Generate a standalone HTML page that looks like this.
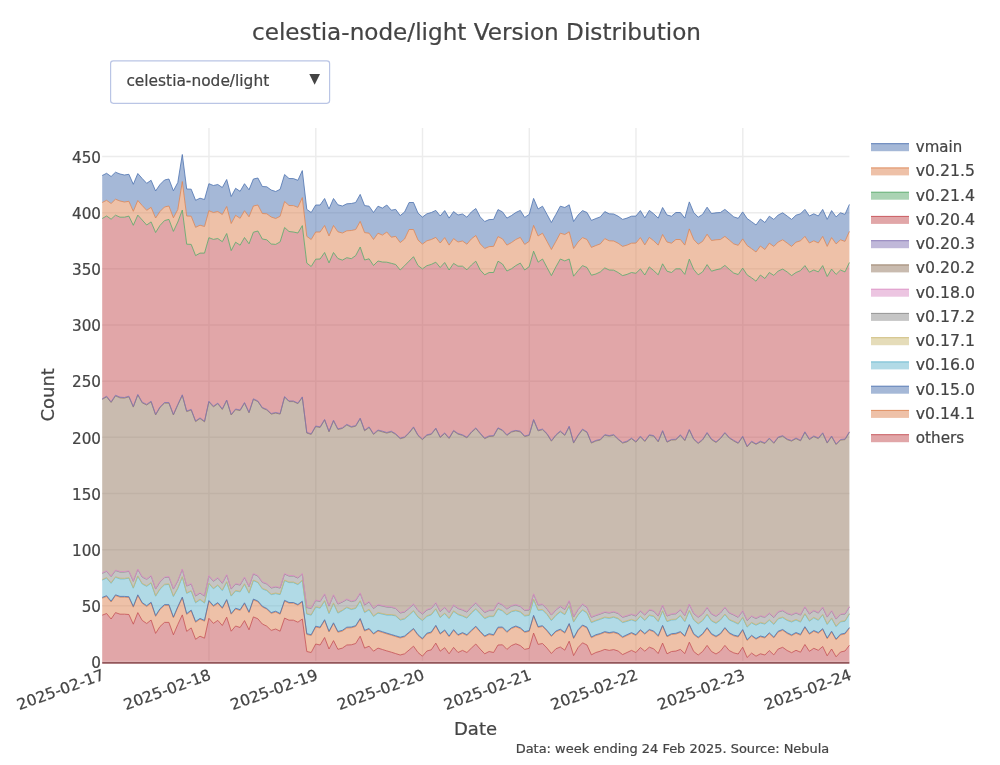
<!DOCTYPE html>
<html lang="en"><head><meta charset="utf-8"><title>celestia-node/light Version Distribution</title>
<style>html,body{margin:0;padding:0;background:#fff;width:1000px;height:765px;overflow:hidden}</style></head>
<body>
<svg width="1000" height="765" viewBox="0 0 1000 765" style="position:absolute;left:0;top:0">
<rect width="1000" height="765" fill="#fff"/>
<line x1="209.0" x2="209.0" y1="128.0" y2="662.0" stroke="#ECECEC" stroke-width="1.4"/>
<line x1="315.8" x2="315.8" y1="128.0" y2="662.0" stroke="#ECECEC" stroke-width="1.4"/>
<line x1="422.5" x2="422.5" y1="128.0" y2="662.0" stroke="#ECECEC" stroke-width="1.4"/>
<line x1="529.3" x2="529.3" y1="128.0" y2="662.0" stroke="#ECECEC" stroke-width="1.4"/>
<line x1="636.0" x2="636.0" y1="128.0" y2="662.0" stroke="#ECECEC" stroke-width="1.4"/>
<line x1="742.8" x2="742.8" y1="128.0" y2="662.0" stroke="#ECECEC" stroke-width="1.4"/>
<line x1="102.2" x2="849.4" y1="605.8" y2="605.8" stroke="#ECECEC" stroke-width="1.4"/>
<line x1="102.2" x2="849.4" y1="549.7" y2="549.7" stroke="#ECECEC" stroke-width="1.4"/>
<line x1="102.2" x2="849.4" y1="493.5" y2="493.5" stroke="#ECECEC" stroke-width="1.4"/>
<line x1="102.2" x2="849.4" y1="437.3" y2="437.3" stroke="#ECECEC" stroke-width="1.4"/>
<line x1="102.2" x2="849.4" y1="381.2" y2="381.2" stroke="#ECECEC" stroke-width="1.4"/>
<line x1="102.2" x2="849.4" y1="325.0" y2="325.0" stroke="#ECECEC" stroke-width="1.4"/>
<line x1="102.2" x2="849.4" y1="268.8" y2="268.8" stroke="#ECECEC" stroke-width="1.4"/>
<line x1="102.2" x2="849.4" y1="212.7" y2="212.7" stroke="#ECECEC" stroke-width="1.4"/>
<line x1="102.2" x2="849.4" y1="156.5" y2="156.5" stroke="#ECECEC" stroke-width="1.4"/>
<line x1="102.2" x2="849.4" y1="662.0" y2="662.0" stroke="#EBEBEB" stroke-width="2"/>
<polygon points="102.2,615.2 106.6,613.5 111.1,619.0 115.5,612.6 120.0,614.2 124.4,614.2 128.9,614.5 133.3,624.2 137.8,612.6 142.2,620.4 146.7,623.5 151.1,620.0 155.6,633.4 160.0,626.5 164.5,622.4 168.9,622.4 173.4,634.8 177.8,624.5 182.3,614.9 186.7,631.4 191.2,627.9 195.6,639.3 200.0,636.2 204.5,638.2 208.9,618.3 213.4,623.4 217.8,620.4 222.3,625.5 226.7,617.2 231.2,631.2 235.6,626.0 240.1,627.5 244.5,620.6 249.0,629.8 253.4,616.9 257.9,618.8 262.3,624.0 266.8,626.2 271.2,630.4 275.7,629.0 280.1,631.2 284.6,618.1 289.0,620.2 293.4,620.2 297.9,622.2 302.3,619.0 306.8,651.5 311.2,652.5 315.7,644.0 320.1,645.0 324.6,637.5 329.0,649.0 333.5,640.6 337.9,649.3 342.4,648.1 346.8,645.0 351.3,644.8 355.7,643.5 360.2,636.2 364.6,648.1 369.1,646.2 373.5,651.2 378.0,648.1 382.4,649.5 386.8,650.9 391.3,652.2 395.7,653.6 400.2,655.0 404.6,653.8 409.1,650.0 413.5,646.2 418.0,652.5 422.4,656.2 426.9,651.0 431.3,649.8 435.8,643.1 440.2,651.2 444.7,647.7 449.1,653.8 453.6,647.4 458.0,652.5 462.5,650.4 466.9,652.5 471.4,648.1 475.8,644.0 480.2,649.1 484.7,653.8 489.1,651.5 493.6,652.5 498.0,645.0 502.5,644.8 506.9,649.4 511.4,645.6 515.8,643.8 520.3,645.6 524.7,649.4 529.2,648.4 533.6,633.1 538.1,644.4 542.5,643.5 547.0,648.1 551.4,653.5 555.9,648.8 560.3,647.0 564.8,650.2 569.2,641.2 573.6,655.6 578.1,647.5 582.5,642.8 587.0,645.0 591.4,654.8 595.9,652.5 600.3,651.2 604.8,649.4 609.2,650.4 613.7,649.6 618.1,651.0 622.6,654.6 627.0,652.5 631.5,650.4 635.9,652.5 640.4,647.5 644.8,651.2 649.3,647.2 653.7,648.8 658.2,653.5 662.6,643.1 667.0,653.8 671.5,651.5 675.9,651.1 680.4,649.4 684.8,653.6 689.3,642.2 693.7,651.5 698.2,655.0 702.6,651.5 707.1,645.4 711.5,651.5 716.0,654.0 720.4,651.2 724.9,645.4 729.3,650.6 733.8,652.9 738.2,654.0 742.7,647.2 747.1,657.5 751.6,653.1 756.0,656.2 760.4,653.8 764.9,655.0 769.3,650.6 773.8,654.9 778.2,649.0 782.7,647.3 787.1,650.5 791.6,652.7 796.0,650.3 800.5,652.2 804.9,644.5 809.4,651.3 813.8,648.3 818.3,650.3 822.7,646.5 827.2,655.8 831.6,649.0 836.1,656.8 840.5,652.0 845.0,651.0 849.4,645.3 849.4,662.0 845.0,662.0 840.5,662.0 836.1,662.0 831.6,662.0 827.2,662.0 822.7,662.0 818.3,662.0 813.8,662.0 809.4,662.0 804.9,662.0 800.5,662.0 796.0,662.0 791.6,662.0 787.1,662.0 782.7,662.0 778.2,662.0 773.8,662.0 769.3,662.0 764.9,662.0 760.4,662.0 756.0,662.0 751.6,662.0 747.1,662.0 742.7,662.0 738.2,662.0 733.8,662.0 729.3,662.0 724.9,662.0 720.4,662.0 716.0,662.0 711.5,662.0 707.1,662.0 702.6,662.0 698.2,662.0 693.7,662.0 689.3,662.0 684.8,662.0 680.4,662.0 675.9,662.0 671.5,662.0 667.0,662.0 662.6,662.0 658.2,662.0 653.7,662.0 649.3,662.0 644.8,662.0 640.4,662.0 635.9,662.0 631.5,662.0 627.0,662.0 622.6,662.0 618.1,662.0 613.7,662.0 609.2,662.0 604.8,662.0 600.3,662.0 595.9,662.0 591.4,662.0 587.0,662.0 582.5,662.0 578.1,662.0 573.6,662.0 569.2,662.0 564.8,662.0 560.3,662.0 555.9,662.0 551.4,662.0 547.0,662.0 542.5,662.0 538.1,662.0 533.6,662.0 529.2,662.0 524.7,662.0 520.3,662.0 515.8,662.0 511.4,662.0 506.9,662.0 502.5,662.0 498.0,662.0 493.6,662.0 489.1,662.0 484.7,662.0 480.2,662.0 475.8,662.0 471.4,662.0 466.9,662.0 462.5,662.0 458.0,662.0 453.6,662.0 449.1,662.0 444.7,662.0 440.2,662.0 435.8,662.0 431.3,662.0 426.9,662.0 422.4,662.0 418.0,662.0 413.5,662.0 409.1,662.0 404.6,662.0 400.2,662.0 395.7,662.0 391.3,662.0 386.8,662.0 382.4,662.0 378.0,662.0 373.5,662.0 369.1,662.0 364.6,662.0 360.2,662.0 355.7,662.0 351.3,662.0 346.8,662.0 342.4,662.0 337.9,662.0 333.5,662.0 329.0,662.0 324.6,662.0 320.1,662.0 315.7,662.0 311.2,662.0 306.8,662.0 302.3,662.0 297.9,662.0 293.4,662.0 289.0,662.0 284.6,662.0 280.1,662.0 275.7,662.0 271.2,662.0 266.8,662.0 262.3,662.0 257.9,662.0 253.4,662.0 249.0,662.0 244.5,662.0 240.1,662.0 235.6,662.0 231.2,662.0 226.7,662.0 222.3,662.0 217.8,662.0 213.4,662.0 208.9,662.0 204.5,662.0 200.0,662.0 195.6,662.0 191.2,662.0 186.7,662.0 182.3,662.0 177.8,662.0 173.4,662.0 168.9,662.0 164.5,662.0 160.0,662.0 155.6,662.0 151.1,662.0 146.7,662.0 142.2,662.0 137.8,662.0 133.3,662.0 128.9,662.0 124.4,662.0 120.0,662.0 115.5,662.0 111.1,662.0 106.6,662.0 102.2,662.0" fill="rgba(196,78,82,0.5)" stroke="none"/>
<polygon points="102.2,598.2 106.6,596.5 111.1,602.0 115.5,595.6 120.0,597.2 124.4,597.2 128.9,597.5 133.3,607.2 137.8,595.6 142.2,603.4 146.7,606.5 151.1,603.0 155.6,616.4 160.0,609.5 164.5,605.4 168.9,605.4 173.4,617.8 177.8,607.5 182.3,597.9 186.7,614.4 191.2,610.9 195.6,622.3 200.0,619.2 204.5,621.2 208.9,601.3 213.4,606.4 217.8,603.4 222.3,608.5 226.7,600.2 231.2,614.2 235.6,609.0 240.1,610.5 244.5,603.6 249.0,612.8 253.4,599.9 257.9,601.8 262.3,607.0 266.8,609.2 271.2,613.4 275.7,612.0 280.1,614.2 284.6,601.1 289.0,603.2 293.4,603.2 297.9,605.2 302.3,602.0 306.8,634.5 311.2,635.5 315.7,627.0 320.1,628.0 324.6,620.5 329.0,632.0 333.5,623.6 337.9,632.3 342.4,631.1 346.8,628.0 351.3,627.8 355.7,626.5 360.2,619.2 364.6,631.1 369.1,629.2 373.5,634.2 378.0,631.1 382.4,632.5 386.8,633.9 391.3,635.2 395.7,636.6 400.2,638.0 404.6,636.8 409.1,633.0 413.5,629.2 418.0,635.5 422.4,639.2 426.9,634.0 431.3,632.8 435.8,626.1 440.2,634.2 444.7,630.7 449.1,636.8 453.6,630.4 458.0,635.5 462.5,633.4 466.9,635.5 471.4,631.1 475.8,627.0 480.2,632.1 484.7,636.8 489.1,634.5 493.6,635.5 498.0,628.0 502.5,627.8 506.9,632.4 511.4,628.6 515.8,626.8 520.3,628.6 524.7,632.4 529.2,631.4 533.6,616.1 538.1,627.4 542.5,626.5 547.0,631.1 551.4,636.5 555.9,631.8 560.3,630.0 564.8,633.2 569.2,624.2 573.6,638.6 578.1,630.5 582.5,625.8 587.0,628.0 591.4,637.8 595.9,635.5 600.3,634.2 604.8,632.4 609.2,633.4 613.7,632.6 618.1,634.0 622.6,637.6 627.0,635.5 631.5,633.4 635.9,635.5 640.4,630.5 644.8,634.2 649.3,630.2 653.7,631.8 658.2,636.5 662.6,626.1 667.0,636.8 671.5,634.5 675.9,634.1 680.4,632.4 684.8,636.6 689.3,625.2 693.7,634.5 698.2,638.0 702.6,634.5 707.1,628.4 711.5,634.5 716.0,637.0 720.4,634.2 724.9,628.4 729.3,633.6 733.8,635.9 738.2,637.0 742.7,630.2 747.1,640.5 751.6,636.1 756.0,639.2 760.4,636.8 764.9,638.0 769.3,633.6 773.8,637.9 778.2,632.0 782.7,630.3 787.1,633.5 791.6,635.7 796.0,633.3 800.5,635.2 804.9,627.5 809.4,634.3 813.8,631.3 818.3,633.3 822.7,629.5 827.2,638.8 831.6,632.0 836.1,639.8 840.5,635.0 845.0,634.0 849.4,628.3 849.4,645.3 845.0,651.0 840.5,652.0 836.1,656.8 831.6,649.0 827.2,655.8 822.7,646.5 818.3,650.3 813.8,648.3 809.4,651.3 804.9,644.5 800.5,652.2 796.0,650.3 791.6,652.7 787.1,650.5 782.7,647.3 778.2,649.0 773.8,654.9 769.3,650.6 764.9,655.0 760.4,653.8 756.0,656.2 751.6,653.1 747.1,657.5 742.7,647.2 738.2,654.0 733.8,652.9 729.3,650.6 724.9,645.4 720.4,651.2 716.0,654.0 711.5,651.5 707.1,645.4 702.6,651.5 698.2,655.0 693.7,651.5 689.3,642.2 684.8,653.6 680.4,649.4 675.9,651.1 671.5,651.5 667.0,653.8 662.6,643.1 658.2,653.5 653.7,648.8 649.3,647.2 644.8,651.2 640.4,647.5 635.9,652.5 631.5,650.4 627.0,652.5 622.6,654.6 618.1,651.0 613.7,649.6 609.2,650.4 604.8,649.4 600.3,651.2 595.9,652.5 591.4,654.8 587.0,645.0 582.5,642.8 578.1,647.5 573.6,655.6 569.2,641.2 564.8,650.2 560.3,647.0 555.9,648.8 551.4,653.5 547.0,648.1 542.5,643.5 538.1,644.4 533.6,633.1 529.2,648.4 524.7,649.4 520.3,645.6 515.8,643.8 511.4,645.6 506.9,649.4 502.5,644.8 498.0,645.0 493.6,652.5 489.1,651.5 484.7,653.8 480.2,649.1 475.8,644.0 471.4,648.1 466.9,652.5 462.5,650.4 458.0,652.5 453.6,647.4 449.1,653.8 444.7,647.7 440.2,651.2 435.8,643.1 431.3,649.8 426.9,651.0 422.4,656.2 418.0,652.5 413.5,646.2 409.1,650.0 404.6,653.8 400.2,655.0 395.7,653.6 391.3,652.2 386.8,650.9 382.4,649.5 378.0,648.1 373.5,651.2 369.1,646.2 364.6,648.1 360.2,636.2 355.7,643.5 351.3,644.8 346.8,645.0 342.4,648.1 337.9,649.3 333.5,640.6 329.0,649.0 324.6,637.5 320.1,645.0 315.7,644.0 311.2,652.5 306.8,651.5 302.3,619.0 297.9,622.2 293.4,620.2 289.0,620.2 284.6,618.1 280.1,631.2 275.7,629.0 271.2,630.4 266.8,626.2 262.3,624.0 257.9,618.8 253.4,616.9 249.0,629.8 244.5,620.6 240.1,627.5 235.6,626.0 231.2,631.2 226.7,617.2 222.3,625.5 217.8,620.4 213.4,623.4 208.9,618.3 204.5,638.2 200.0,636.2 195.6,639.3 191.2,627.9 186.7,631.4 182.3,614.9 177.8,624.5 173.4,634.8 168.9,622.4 164.5,622.4 160.0,626.5 155.6,633.4 151.1,620.0 146.7,623.5 142.2,620.4 137.8,612.6 133.3,624.2 128.9,614.5 124.4,614.2 120.0,614.2 115.5,612.6 111.1,619.0 106.6,613.5 102.2,615.2" fill="rgba(221,132,82,0.5)" stroke="none"/>
<polygon points="102.2,597.4 106.6,595.7 111.1,601.2 115.5,594.8 120.0,596.4 124.4,596.4 128.9,596.7 133.3,606.4 137.8,594.8 142.2,602.6 146.7,605.7 151.1,602.2 155.6,615.6 160.0,608.7 164.5,604.6 168.9,604.6 173.4,617.0 177.8,606.7 182.3,597.1 186.7,613.6 191.2,610.1 195.6,621.5 200.0,618.4 204.5,620.4 208.9,600.5 213.4,605.6 217.8,602.6 222.3,607.7 226.7,599.5 231.2,613.5 235.6,608.2 240.1,609.7 244.5,602.8 249.0,612.0 253.4,599.1 257.9,601.0 262.3,606.2 266.8,608.5 271.2,612.6 275.7,611.2 280.1,613.5 284.6,600.3 289.0,602.5 293.4,602.5 297.9,604.5 302.3,601.2 306.8,633.7 311.2,634.7 315.7,626.2 320.1,627.2 324.6,619.7 329.0,631.2 333.5,622.8 337.9,631.5 342.4,630.3 346.8,627.2 351.3,627.0 355.7,625.7 360.2,618.5 364.6,630.3 369.1,628.5 373.5,633.5 378.0,630.3 382.4,631.7 386.8,633.1 391.3,634.5 395.7,635.8 400.2,637.2 404.6,636.0 409.1,632.2 413.5,628.5 418.0,634.7 422.4,638.5 426.9,633.2 431.3,632.0 435.8,625.3 440.2,633.5 444.7,629.9 449.1,636.0 453.6,629.6 458.0,634.7 462.5,632.6 466.9,634.7 471.4,630.3 475.8,626.2 480.2,631.3 484.7,636.0 489.1,633.7 493.6,634.7 498.0,627.2 502.5,627.0 506.9,631.6 511.4,627.8 515.8,626.0 520.3,627.8 524.7,631.6 529.2,630.6 533.6,615.3 538.1,626.6 542.5,625.7 547.0,630.3 551.4,635.7 555.9,631.0 560.3,629.2 564.8,632.4 569.2,623.5 573.6,637.8 578.1,629.7 582.5,625.0 587.0,627.2 591.4,637.0 595.9,634.7 600.3,633.5 604.8,631.6 609.2,632.6 613.7,631.8 618.1,633.2 622.6,636.8 627.0,634.7 631.5,632.6 635.9,634.7 640.4,629.7 644.8,633.5 649.3,629.5 653.7,631.0 658.2,635.7 662.6,625.3 667.0,636.0 671.5,633.7 675.9,633.3 680.4,631.6 684.8,635.8 689.3,624.5 693.7,633.7 698.2,637.2 702.6,633.7 707.1,627.6 711.5,633.7 716.0,636.2 720.4,633.5 724.9,627.6 729.3,632.8 733.8,635.1 738.2,636.2 742.7,629.5 747.1,639.7 751.6,635.3 756.0,638.5 760.4,636.0 764.9,637.2 769.3,632.8 773.8,637.1 778.2,631.2 782.7,629.5 787.1,632.7 791.6,634.9 796.0,632.5 800.5,634.4 804.9,626.7 809.4,633.5 813.8,630.5 818.3,632.5 822.7,628.7 827.2,638.0 831.6,631.2 836.1,639.0 840.5,634.2 845.0,633.2 849.4,627.5 849.4,628.3 845.0,634.0 840.5,635.0 836.1,639.8 831.6,632.0 827.2,638.8 822.7,629.5 818.3,633.3 813.8,631.3 809.4,634.3 804.9,627.5 800.5,635.2 796.0,633.3 791.6,635.7 787.1,633.5 782.7,630.3 778.2,632.0 773.8,637.9 769.3,633.6 764.9,638.0 760.4,636.8 756.0,639.2 751.6,636.1 747.1,640.5 742.7,630.2 738.2,637.0 733.8,635.9 729.3,633.6 724.9,628.4 720.4,634.2 716.0,637.0 711.5,634.5 707.1,628.4 702.6,634.5 698.2,638.0 693.7,634.5 689.3,625.2 684.8,636.6 680.4,632.4 675.9,634.1 671.5,634.5 667.0,636.8 662.6,626.1 658.2,636.5 653.7,631.8 649.3,630.2 644.8,634.2 640.4,630.5 635.9,635.5 631.5,633.4 627.0,635.5 622.6,637.6 618.1,634.0 613.7,632.6 609.2,633.4 604.8,632.4 600.3,634.2 595.9,635.5 591.4,637.8 587.0,628.0 582.5,625.8 578.1,630.5 573.6,638.6 569.2,624.2 564.8,633.2 560.3,630.0 555.9,631.8 551.4,636.5 547.0,631.1 542.5,626.5 538.1,627.4 533.6,616.1 529.2,631.4 524.7,632.4 520.3,628.6 515.8,626.8 511.4,628.6 506.9,632.4 502.5,627.8 498.0,628.0 493.6,635.5 489.1,634.5 484.7,636.8 480.2,632.1 475.8,627.0 471.4,631.1 466.9,635.5 462.5,633.4 458.0,635.5 453.6,630.4 449.1,636.8 444.7,630.7 440.2,634.2 435.8,626.1 431.3,632.8 426.9,634.0 422.4,639.2 418.0,635.5 413.5,629.2 409.1,633.0 404.6,636.8 400.2,638.0 395.7,636.6 391.3,635.2 386.8,633.9 382.4,632.5 378.0,631.1 373.5,634.2 369.1,629.2 364.6,631.1 360.2,619.2 355.7,626.5 351.3,627.8 346.8,628.0 342.4,631.1 337.9,632.3 333.5,623.6 329.0,632.0 324.6,620.5 320.1,628.0 315.7,627.0 311.2,635.5 306.8,634.5 302.3,602.0 297.9,605.2 293.4,603.2 289.0,603.2 284.6,601.1 280.1,614.2 275.7,612.0 271.2,613.4 266.8,609.2 262.3,607.0 257.9,601.8 253.4,599.9 249.0,612.8 244.5,603.6 240.1,610.5 235.6,609.0 231.2,614.2 226.7,600.2 222.3,608.5 217.8,603.4 213.4,606.4 208.9,601.3 204.5,621.2 200.0,619.2 195.6,622.3 191.2,610.9 186.7,614.4 182.3,597.9 177.8,607.5 173.4,617.8 168.9,605.4 164.5,605.4 160.0,609.5 155.6,616.4 151.1,603.0 146.7,606.5 142.2,603.4 137.8,595.6 133.3,607.2 128.9,597.5 124.4,597.2 120.0,597.2 115.5,595.6 111.1,602.0 106.6,596.5 102.2,598.2" fill="rgba(76,114,176,0.5)" stroke="none"/>
<polygon points="102.2,580.1 106.6,578.1 111.1,583.3 115.5,577.3 120.0,578.9 124.4,578.9 128.9,578.2 133.3,588.2 137.8,576.4 142.2,584.0 146.7,586.3 151.1,583.1 155.6,596.2 160.0,589.2 164.5,584.8 168.9,584.4 173.4,596.5 177.8,588.5 182.3,577.1 186.7,593.4 191.2,591.1 195.6,602.9 200.0,599.7 204.5,603.1 208.9,583.6 213.4,588.8 217.8,585.4 222.3,590.6 226.7,582.2 231.2,596.1 235.6,591.0 240.1,591.9 244.5,584.3 249.0,593.2 253.4,580.6 257.9,582.6 262.3,588.9 266.8,590.6 271.2,594.6 275.7,593.6 280.1,594.6 284.6,580.6 289.0,582.6 293.4,582.6 297.9,584.6 302.3,580.6 306.8,614.1 311.2,615.1 315.7,607.2 320.1,608.2 324.6,601.1 329.0,613.6 333.5,603.5 337.9,613.1 342.4,610.6 346.8,607.6 351.3,609.5 355.7,608.4 360.2,601.1 364.6,612.6 369.1,609.8 373.5,616.4 378.0,613.1 382.4,614.1 386.8,615.1 391.3,615.1 395.7,615.9 400.2,620.1 404.6,619.0 409.1,615.2 413.5,611.1 418.0,617.2 422.4,620.6 426.9,616.4 431.3,614.8 435.8,609.1 440.2,617.6 444.7,613.6 449.1,618.6 453.6,611.4 458.0,614.6 462.5,616.1 466.9,618.1 471.4,613.1 475.8,609.1 480.2,613.8 484.7,618.6 489.1,616.6 493.6,616.6 498.0,609.1 502.5,611.0 506.9,614.9 511.4,611.8 515.8,610.7 520.3,612.1 524.7,616.0 529.2,615.4 533.6,599.6 538.1,610.4 542.5,610.0 547.0,614.5 551.4,620.6 555.9,615.5 560.3,611.9 564.8,614.7 569.2,606.1 573.6,622.1 578.1,615.0 582.5,610.1 587.0,613.1 591.4,622.6 595.9,620.8 600.3,619.3 604.8,617.6 609.2,618.3 613.7,617.3 618.1,618.8 622.6,622.6 627.0,621.3 631.5,619.9 635.9,621.4 640.4,616.4 644.8,620.5 649.3,615.5 653.7,616.5 658.2,621.6 662.6,611.1 667.0,621.6 671.5,620.0 675.9,619.7 680.4,615.8 684.8,621.7 689.3,610.8 693.7,620.0 698.2,623.9 702.6,620.8 707.1,614.6 711.5,621.0 716.0,623.3 720.4,620.1 724.9,614.6 729.3,620.0 733.8,621.9 738.2,624.1 742.7,617.7 747.1,627.1 751.6,623.0 756.0,625.2 760.4,623.0 764.9,624.1 769.3,620.2 773.8,624.4 778.2,618.9 782.7,617.6 787.1,620.4 791.6,622.0 796.0,620.0 800.5,622.1 804.9,614.1 809.4,621.2 813.8,617.9 818.3,620.3 822.7,614.9 827.2,624.5 831.6,618.5 836.1,626.6 840.5,621.9 845.0,621.3 849.4,614.1 849.4,627.5 845.0,633.2 840.5,634.2 836.1,639.0 831.6,631.2 827.2,638.0 822.7,628.7 818.3,632.5 813.8,630.5 809.4,633.5 804.9,626.7 800.5,634.4 796.0,632.5 791.6,634.9 787.1,632.7 782.7,629.5 778.2,631.2 773.8,637.1 769.3,632.8 764.9,637.2 760.4,636.0 756.0,638.5 751.6,635.3 747.1,639.7 742.7,629.5 738.2,636.2 733.8,635.1 729.3,632.8 724.9,627.6 720.4,633.5 716.0,636.2 711.5,633.7 707.1,627.6 702.6,633.7 698.2,637.2 693.7,633.7 689.3,624.5 684.8,635.8 680.4,631.6 675.9,633.3 671.5,633.7 667.0,636.0 662.6,625.3 658.2,635.7 653.7,631.0 649.3,629.5 644.8,633.5 640.4,629.7 635.9,634.7 631.5,632.6 627.0,634.7 622.6,636.8 618.1,633.2 613.7,631.8 609.2,632.6 604.8,631.6 600.3,633.5 595.9,634.7 591.4,637.0 587.0,627.2 582.5,625.0 578.1,629.7 573.6,637.8 569.2,623.5 564.8,632.4 560.3,629.2 555.9,631.0 551.4,635.7 547.0,630.3 542.5,625.7 538.1,626.6 533.6,615.3 529.2,630.6 524.7,631.6 520.3,627.8 515.8,626.0 511.4,627.8 506.9,631.6 502.5,627.0 498.0,627.2 493.6,634.7 489.1,633.7 484.7,636.0 480.2,631.3 475.8,626.2 471.4,630.3 466.9,634.7 462.5,632.6 458.0,634.7 453.6,629.6 449.1,636.0 444.7,629.9 440.2,633.5 435.8,625.3 431.3,632.0 426.9,633.2 422.4,638.5 418.0,634.7 413.5,628.5 409.1,632.2 404.6,636.0 400.2,637.2 395.7,635.8 391.3,634.5 386.8,633.1 382.4,631.7 378.0,630.3 373.5,633.5 369.1,628.5 364.6,630.3 360.2,618.5 355.7,625.7 351.3,627.0 346.8,627.2 342.4,630.3 337.9,631.5 333.5,622.8 329.0,631.2 324.6,619.7 320.1,627.2 315.7,626.2 311.2,634.7 306.8,633.7 302.3,601.2 297.9,604.5 293.4,602.5 289.0,602.5 284.6,600.3 280.1,613.5 275.7,611.2 271.2,612.6 266.8,608.5 262.3,606.2 257.9,601.0 253.4,599.1 249.0,612.0 244.5,602.8 240.1,609.7 235.6,608.2 231.2,613.5 226.7,599.5 222.3,607.7 217.8,602.6 213.4,605.6 208.9,600.5 204.5,620.4 200.0,618.4 195.6,621.5 191.2,610.1 186.7,613.6 182.3,597.1 177.8,606.7 173.4,617.0 168.9,604.6 164.5,604.6 160.0,608.7 155.6,615.6 151.1,602.2 146.7,605.7 142.2,602.6 137.8,594.8 133.3,606.4 128.9,596.7 124.4,596.4 120.0,596.4 115.5,594.8 111.1,601.2 106.6,595.7 102.2,597.4" fill="rgba(100,181,205,0.5)" stroke="none"/>
<polygon points="102.2,579.5 106.6,577.5 111.1,582.7 115.5,576.7 120.0,578.2 124.4,578.3 128.9,577.6 133.3,587.6 137.8,575.8 142.2,583.4 146.7,585.7 151.1,582.5 155.6,595.6 160.0,588.6 164.5,584.2 168.9,583.8 173.4,595.9 177.8,587.9 182.3,576.5 186.7,592.8 191.2,590.5 195.6,602.2 200.0,599.1 204.5,602.5 208.9,583.0 213.4,588.2 217.8,584.8 222.3,590.0 226.7,581.6 231.2,595.5 235.6,590.4 240.1,591.3 244.5,583.7 249.0,592.6 253.4,580.0 257.9,582.0 262.3,588.3 266.8,590.0 271.2,594.0 275.7,593.0 280.1,594.0 284.6,580.0 289.0,582.0 293.4,582.0 297.9,584.0 302.3,580.0 306.8,613.5 311.2,614.5 315.7,606.6 320.1,607.6 324.6,600.5 329.0,613.0 333.5,602.9 337.9,612.5 342.4,610.0 346.8,607.0 351.3,608.9 355.7,607.8 360.2,600.5 364.6,612.0 369.1,609.2 373.5,615.8 378.0,612.5 382.4,613.5 386.8,614.5 391.3,614.5 395.7,615.3 400.2,619.5 404.6,618.4 409.1,614.6 413.5,610.5 418.0,616.6 422.4,620.0 426.9,615.8 431.3,614.2 435.8,608.5 440.2,617.0 444.7,613.0 449.1,618.0 453.6,610.8 458.0,614.0 462.5,615.5 466.9,617.5 471.4,612.5 475.8,608.5 480.2,613.2 484.7,618.0 489.1,616.0 493.6,616.0 498.0,608.5 502.5,610.4 506.9,614.3 511.4,611.2 515.8,610.1 520.3,611.5 524.7,615.4 529.2,614.8 533.6,599.0 538.1,609.8 542.5,609.4 547.0,613.9 551.4,620.0 555.9,614.9 560.3,611.2 564.8,614.1 569.2,605.5 573.6,621.5 578.1,614.4 582.5,609.5 587.0,612.5 591.4,622.0 595.9,620.2 600.3,618.7 604.8,617.0 609.2,617.7 613.7,616.7 618.1,618.2 622.6,622.0 627.0,620.7 631.5,619.3 635.9,620.8 640.4,615.8 644.8,619.9 649.3,614.9 653.7,615.9 658.2,621.0 662.6,610.5 667.0,621.0 671.5,619.4 675.9,619.1 680.4,615.2 684.8,621.1 689.3,610.2 693.7,619.4 698.2,623.3 702.6,620.1 707.1,614.0 711.5,620.4 716.0,622.7 720.4,619.5 724.9,614.0 729.3,619.4 733.8,621.3 738.2,623.5 742.7,617.1 747.1,626.5 751.6,622.4 756.0,624.6 760.4,622.4 764.9,623.5 769.3,619.6 773.8,623.8 778.2,618.3 782.7,617.0 787.1,619.8 791.6,621.4 796.0,619.4 800.5,621.5 804.9,613.5 809.4,620.6 813.8,617.3 818.3,619.7 822.7,614.3 827.2,623.9 831.6,617.9 836.1,626.0 840.5,621.3 845.0,620.7 849.4,613.5 849.4,614.1 845.0,621.3 840.5,621.9 836.1,626.6 831.6,618.5 827.2,624.5 822.7,614.9 818.3,620.3 813.8,617.9 809.4,621.2 804.9,614.1 800.5,622.1 796.0,620.0 791.6,622.0 787.1,620.4 782.7,617.6 778.2,618.9 773.8,624.4 769.3,620.2 764.9,624.1 760.4,623.0 756.0,625.2 751.6,623.0 747.1,627.1 742.7,617.7 738.2,624.1 733.8,621.9 729.3,620.0 724.9,614.6 720.4,620.1 716.0,623.3 711.5,621.0 707.1,614.6 702.6,620.8 698.2,623.9 693.7,620.0 689.3,610.8 684.8,621.7 680.4,615.8 675.9,619.7 671.5,620.0 667.0,621.6 662.6,611.1 658.2,621.6 653.7,616.5 649.3,615.5 644.8,620.5 640.4,616.4 635.9,621.4 631.5,619.9 627.0,621.3 622.6,622.6 618.1,618.8 613.7,617.3 609.2,618.3 604.8,617.6 600.3,619.3 595.9,620.8 591.4,622.6 587.0,613.1 582.5,610.1 578.1,615.0 573.6,622.1 569.2,606.1 564.8,614.7 560.3,611.9 555.9,615.5 551.4,620.6 547.0,614.5 542.5,610.0 538.1,610.4 533.6,599.6 529.2,615.4 524.7,616.0 520.3,612.1 515.8,610.7 511.4,611.8 506.9,614.9 502.5,611.0 498.0,609.1 493.6,616.6 489.1,616.6 484.7,618.6 480.2,613.8 475.8,609.1 471.4,613.1 466.9,618.1 462.5,616.1 458.0,614.6 453.6,611.4 449.1,618.6 444.7,613.6 440.2,617.6 435.8,609.1 431.3,614.8 426.9,616.4 422.4,620.6 418.0,617.2 413.5,611.1 409.1,615.2 404.6,619.0 400.2,620.1 395.7,615.9 391.3,615.1 386.8,615.1 382.4,614.1 378.0,613.1 373.5,616.4 369.1,609.8 364.6,612.6 360.2,601.1 355.7,608.4 351.3,609.5 346.8,607.6 342.4,610.6 337.9,613.1 333.5,603.5 329.0,613.6 324.6,601.1 320.1,608.2 315.7,607.2 311.2,615.1 306.8,614.1 302.3,580.6 297.9,584.6 293.4,582.6 289.0,582.6 284.6,580.6 280.1,594.6 275.7,593.6 271.2,594.6 266.8,590.6 262.3,588.9 257.9,582.6 253.4,580.6 249.0,593.2 244.5,584.3 240.1,591.9 235.6,591.0 231.2,596.1 226.7,582.2 222.3,590.6 217.8,585.4 213.4,588.8 208.9,583.6 204.5,603.1 200.0,599.7 195.6,602.9 191.2,591.1 186.7,593.4 182.3,577.1 177.8,588.5 173.4,596.5 168.9,584.4 164.5,584.8 160.0,589.2 155.6,596.2 151.1,583.1 146.7,586.3 142.2,584.0 137.8,576.4 133.3,588.2 128.9,578.2 124.4,578.9 120.0,578.9 115.5,577.3 111.1,583.3 106.6,578.1 102.2,580.1" fill="rgba(204,185,116,0.5)" stroke="none"/>
<polygon points="102.2,573.4 106.6,571.4 111.1,576.6 115.5,570.6 120.0,572.1 124.4,572.1 128.9,571.4 133.3,581.4 137.8,569.6 142.2,577.1 146.7,579.4 151.1,576.1 155.6,589.1 160.0,582.1 164.5,577.6 168.9,577.1 173.4,589.1 177.8,581.1 182.3,569.6 186.7,586.1 191.2,584.1 195.6,596.1 200.0,593.2 204.5,596.1 208.9,576.1 213.4,581.4 217.8,578.1 222.3,583.4 226.7,575.1 231.2,589.1 235.6,584.1 240.1,585.1 244.5,577.6 249.0,586.6 253.4,574.1 257.9,576.1 262.3,582.4 266.8,584.1 271.2,588.1 275.7,587.1 280.1,588.1 284.6,574.1 289.0,576.1 293.4,576.1 297.9,578.1 302.3,574.1 306.8,607.6 311.2,608.6 315.7,600.6 320.1,601.6 324.6,594.4 329.0,606.1 333.5,595.3 337.9,604.1 342.4,602.1 346.8,599.6 351.3,601.6 355.7,600.6 360.2,593.4 364.6,605.1 369.1,602.1 373.5,608.6 378.0,605.1 382.4,606.1 386.8,607.1 391.3,607.4 395.7,608.6 400.2,613.1 404.6,612.1 409.1,608.4 413.5,604.4 418.0,610.6 422.4,614.1 426.9,610.1 431.3,608.6 435.8,603.1 440.2,611.6 444.7,607.6 449.1,612.6 453.6,605.4 458.0,608.6 462.5,610.1 466.9,612.1 471.4,607.1 475.8,603.1 480.2,607.8 484.7,612.6 489.1,610.6 493.6,610.6 498.0,603.1 502.5,605.1 506.9,609.1 511.4,606.1 515.8,605.1 520.3,606.6 524.7,610.6 529.2,610.1 533.6,594.4 538.1,605.1 542.5,604.6 547.0,609.1 551.4,615.1 555.9,610.1 560.3,606.6 564.8,609.6 569.2,601.1 573.6,617.1 578.1,609.6 582.5,604.4 587.0,607.6 591.4,617.4 595.9,615.6 600.3,614.1 604.8,612.4 609.2,613.1 613.7,612.1 618.1,613.6 622.6,617.4 627.0,616.1 631.5,614.6 635.9,616.1 640.4,611.1 644.8,615.1 649.3,610.1 653.7,611.1 658.2,616.1 662.6,605.6 667.0,616.1 671.5,614.4 675.9,613.9 680.4,609.9 684.8,615.6 689.3,604.6 693.7,613.6 698.2,617.4 702.6,614.1 707.1,607.8 711.5,614.1 716.0,616.4 720.4,613.1 724.9,607.6 729.3,613.1 733.8,615.1 738.2,617.4 742.7,611.1 747.1,620.6 751.6,616.4 756.0,618.6 760.4,616.3 764.9,617.4 769.3,613.5 773.8,617.6 778.2,612.1 782.7,610.8 787.1,613.6 791.6,615.1 796.0,613.1 800.5,615.1 804.9,607.1 809.4,614.1 813.8,610.8 818.3,613.1 822.7,607.6 827.2,617.1 831.6,611.1 836.1,619.1 840.5,614.6 845.0,614.1 849.4,607.1 849.4,613.5 845.0,620.7 840.5,621.3 836.1,626.0 831.6,617.9 827.2,623.9 822.7,614.3 818.3,619.7 813.8,617.3 809.4,620.6 804.9,613.5 800.5,621.5 796.0,619.4 791.6,621.4 787.1,619.8 782.7,617.0 778.2,618.3 773.8,623.8 769.3,619.6 764.9,623.5 760.4,622.4 756.0,624.6 751.6,622.4 747.1,626.5 742.7,617.1 738.2,623.5 733.8,621.3 729.3,619.4 724.9,614.0 720.4,619.5 716.0,622.7 711.5,620.4 707.1,614.0 702.6,620.1 698.2,623.3 693.7,619.4 689.3,610.2 684.8,621.1 680.4,615.2 675.9,619.1 671.5,619.4 667.0,621.0 662.6,610.5 658.2,621.0 653.7,615.9 649.3,614.9 644.8,619.9 640.4,615.8 635.9,620.8 631.5,619.3 627.0,620.7 622.6,622.0 618.1,618.2 613.7,616.7 609.2,617.7 604.8,617.0 600.3,618.7 595.9,620.2 591.4,622.0 587.0,612.5 582.5,609.5 578.1,614.4 573.6,621.5 569.2,605.5 564.8,614.1 560.3,611.2 555.9,614.9 551.4,620.0 547.0,613.9 542.5,609.4 538.1,609.8 533.6,599.0 529.2,614.8 524.7,615.4 520.3,611.5 515.8,610.1 511.4,611.2 506.9,614.3 502.5,610.4 498.0,608.5 493.6,616.0 489.1,616.0 484.7,618.0 480.2,613.2 475.8,608.5 471.4,612.5 466.9,617.5 462.5,615.5 458.0,614.0 453.6,610.8 449.1,618.0 444.7,613.0 440.2,617.0 435.8,608.5 431.3,614.2 426.9,615.8 422.4,620.0 418.0,616.6 413.5,610.5 409.1,614.6 404.6,618.4 400.2,619.5 395.7,615.3 391.3,614.5 386.8,614.5 382.4,613.5 378.0,612.5 373.5,615.8 369.1,609.2 364.6,612.0 360.2,600.5 355.7,607.8 351.3,608.9 346.8,607.0 342.4,610.0 337.9,612.5 333.5,602.9 329.0,613.0 324.6,600.5 320.1,607.6 315.7,606.6 311.2,614.5 306.8,613.5 302.3,580.0 297.9,584.0 293.4,582.0 289.0,582.0 284.6,580.0 280.1,594.0 275.7,593.0 271.2,594.0 266.8,590.0 262.3,588.3 257.9,582.0 253.4,580.0 249.0,592.6 244.5,583.7 240.1,591.3 235.6,590.4 231.2,595.5 226.7,581.6 222.3,590.0 217.8,584.8 213.4,588.2 208.9,583.0 204.5,602.5 200.0,599.1 195.6,602.2 191.2,590.5 186.7,592.8 182.3,576.5 177.8,587.9 173.4,595.9 168.9,583.8 164.5,584.2 160.0,588.6 155.6,595.6 151.1,582.5 146.7,585.7 142.2,583.4 137.8,575.8 133.3,587.6 128.9,577.6 124.4,578.3 120.0,578.2 115.5,576.7 111.1,582.7 106.6,577.5 102.2,579.5" fill="rgba(140,140,140,0.5)" stroke="none"/>
<polygon points="102.2,572.8 106.6,570.8 111.1,576.0 115.5,570.0 120.0,571.5 124.4,571.5 128.9,570.8 133.3,580.8 137.8,569.0 142.2,576.5 146.7,578.8 151.1,575.5 155.6,588.5 160.0,581.5 164.5,577.0 168.9,576.5 173.4,588.5 177.8,580.5 182.3,569.0 186.7,585.5 191.2,583.5 195.6,595.5 200.0,592.6 204.5,595.5 208.9,575.5 213.4,580.8 217.8,577.5 222.3,582.8 226.7,574.5 231.2,588.5 235.6,583.5 240.1,584.5 244.5,577.0 249.0,586.0 253.4,573.5 257.9,575.5 262.3,581.8 266.8,583.5 271.2,587.5 275.7,586.5 280.1,587.5 284.6,573.5 289.0,575.5 293.4,575.5 297.9,577.5 302.3,573.5 306.8,607.0 311.2,608.0 315.7,600.0 320.1,601.0 324.6,593.8 329.0,605.5 333.5,594.7 337.9,603.5 342.4,601.5 346.8,599.0 351.3,601.0 355.7,600.0 360.2,592.8 364.6,604.5 369.1,601.5 373.5,608.0 378.0,604.5 382.4,605.5 386.8,606.5 391.3,606.8 395.7,608.0 400.2,612.5 404.6,611.5 409.1,607.8 413.5,603.8 418.0,610.0 422.4,613.5 426.9,609.5 431.3,608.0 435.8,602.5 440.2,611.0 444.7,607.0 449.1,612.0 453.6,604.8 458.0,608.0 462.5,609.5 466.9,611.5 471.4,606.5 475.8,602.5 480.2,607.2 484.7,612.0 489.1,610.0 493.6,610.0 498.0,602.5 502.5,604.5 506.9,608.5 511.4,605.5 515.8,604.5 520.3,606.0 524.7,610.0 529.2,609.5 533.6,593.8 538.1,604.5 542.5,604.0 547.0,608.5 551.4,614.5 555.9,609.5 560.3,606.0 564.8,609.0 569.2,600.5 573.6,616.5 578.1,609.0 582.5,603.8 587.0,607.0 591.4,616.8 595.9,615.0 600.3,613.5 604.8,611.8 609.2,612.5 613.7,611.5 618.1,613.0 622.6,616.8 627.0,615.5 631.5,614.0 635.9,615.5 640.4,610.5 644.8,614.5 649.3,609.5 653.7,610.5 658.2,615.5 662.6,605.0 667.0,615.5 671.5,613.8 675.9,613.3 680.4,609.3 684.8,615.0 689.3,604.0 693.7,613.0 698.2,616.8 702.6,613.5 707.1,607.2 711.5,613.5 716.0,615.8 720.4,612.5 724.9,607.0 729.3,612.5 733.8,614.5 738.2,616.8 742.7,610.5 747.1,620.0 751.6,615.8 756.0,618.0 760.4,615.7 764.9,616.8 769.3,612.9 773.8,617.0 778.2,611.5 782.7,610.2 787.1,613.0 791.6,614.5 796.0,612.5 800.5,614.5 804.9,606.5 809.4,613.5 813.8,610.2 818.3,612.5 822.7,607.0 827.2,616.5 831.6,610.5 836.1,618.5 840.5,614.0 845.0,613.5 849.4,606.5 849.4,607.1 845.0,614.1 840.5,614.6 836.1,619.1 831.6,611.1 827.2,617.1 822.7,607.6 818.3,613.1 813.8,610.8 809.4,614.1 804.9,607.1 800.5,615.1 796.0,613.1 791.6,615.1 787.1,613.6 782.7,610.8 778.2,612.1 773.8,617.6 769.3,613.5 764.9,617.4 760.4,616.3 756.0,618.6 751.6,616.4 747.1,620.6 742.7,611.1 738.2,617.4 733.8,615.1 729.3,613.1 724.9,607.6 720.4,613.1 716.0,616.4 711.5,614.1 707.1,607.8 702.6,614.1 698.2,617.4 693.7,613.6 689.3,604.6 684.8,615.6 680.4,609.9 675.9,613.9 671.5,614.4 667.0,616.1 662.6,605.6 658.2,616.1 653.7,611.1 649.3,610.1 644.8,615.1 640.4,611.1 635.9,616.1 631.5,614.6 627.0,616.1 622.6,617.4 618.1,613.6 613.7,612.1 609.2,613.1 604.8,612.4 600.3,614.1 595.9,615.6 591.4,617.4 587.0,607.6 582.5,604.4 578.1,609.6 573.6,617.1 569.2,601.1 564.8,609.6 560.3,606.6 555.9,610.1 551.4,615.1 547.0,609.1 542.5,604.6 538.1,605.1 533.6,594.4 529.2,610.1 524.7,610.6 520.3,606.6 515.8,605.1 511.4,606.1 506.9,609.1 502.5,605.1 498.0,603.1 493.6,610.6 489.1,610.6 484.7,612.6 480.2,607.8 475.8,603.1 471.4,607.1 466.9,612.1 462.5,610.1 458.0,608.6 453.6,605.4 449.1,612.6 444.7,607.6 440.2,611.6 435.8,603.1 431.3,608.6 426.9,610.1 422.4,614.1 418.0,610.6 413.5,604.4 409.1,608.4 404.6,612.1 400.2,613.1 395.7,608.6 391.3,607.4 386.8,607.1 382.4,606.1 378.0,605.1 373.5,608.6 369.1,602.1 364.6,605.1 360.2,593.4 355.7,600.6 351.3,601.6 346.8,599.6 342.4,602.1 337.9,604.1 333.5,595.3 329.0,606.1 324.6,594.4 320.1,601.6 315.7,600.6 311.2,608.6 306.8,607.6 302.3,574.1 297.9,578.1 293.4,576.1 289.0,576.1 284.6,574.1 280.1,588.1 275.7,587.1 271.2,588.1 266.8,584.1 262.3,582.4 257.9,576.1 253.4,574.1 249.0,586.6 244.5,577.6 240.1,585.1 235.6,584.1 231.2,589.1 226.7,575.1 222.3,583.4 217.8,578.1 213.4,581.4 208.9,576.1 204.5,596.1 200.0,593.2 195.6,596.1 191.2,584.1 186.7,586.1 182.3,569.6 177.8,581.1 173.4,589.1 168.9,577.1 164.5,577.6 160.0,582.1 155.6,589.1 151.1,576.1 146.7,579.4 142.2,577.1 137.8,569.6 133.3,581.4 128.9,571.4 124.4,572.1 120.0,572.1 115.5,570.6 111.1,576.6 106.6,571.4 102.2,573.4" fill="rgba(218,139,195,0.5)" stroke="none"/>
<polygon points="102.2,399.4 106.6,396.9 111.1,402.5 115.5,395.9 120.0,397.9 124.4,398.1 128.9,396.9 133.3,407.1 137.8,395.0 142.2,402.9 146.7,405.0 151.1,401.9 155.6,415.0 160.0,407.5 164.5,403.1 168.9,403.1 173.4,415.0 177.8,405.0 182.3,395.4 186.7,411.6 191.2,410.0 195.6,421.6 200.0,418.5 204.5,421.9 208.9,401.9 213.4,406.9 217.8,403.7 222.3,409.5 226.7,400.6 231.2,415.0 235.6,409.6 240.1,410.6 244.5,403.1 249.0,412.9 253.4,399.4 257.9,401.6 262.3,408.1 266.8,410.0 271.2,414.1 275.7,413.1 280.1,414.1 284.6,397.1 289.0,401.6 293.4,401.6 297.9,403.7 302.3,397.5 306.8,433.1 311.2,434.4 315.7,426.6 320.1,427.5 324.6,420.0 329.0,431.9 333.5,420.9 337.9,429.5 342.4,428.4 346.8,425.0 351.3,427.2 355.7,426.2 360.2,418.7 364.6,430.9 369.1,427.5 373.5,434.4 378.0,430.6 382.4,431.9 386.8,433.1 391.3,431.9 395.7,434.4 400.2,438.7 404.6,437.5 409.1,433.1 413.5,427.5 418.0,435.6 422.4,439.6 426.9,435.4 431.3,434.4 435.8,428.7 440.2,437.5 444.7,433.5 449.1,438.5 453.6,431.0 458.0,434.1 462.5,435.4 466.9,437.9 471.4,432.5 475.8,428.5 480.2,433.7 484.7,438.7 489.1,436.5 493.6,436.2 498.0,428.4 502.5,430.6 506.9,435.4 511.4,432.1 515.8,431.0 520.3,431.9 524.7,436.6 529.2,435.4 533.6,420.0 538.1,430.9 542.5,429.7 547.0,434.1 551.4,441.2 555.9,435.4 560.3,431.6 564.8,435.4 569.2,426.9 573.6,443.1 578.1,435.6 582.5,429.7 587.0,432.5 591.4,443.1 595.9,441.0 600.3,440.0 604.8,435.2 609.2,436.2 613.7,435.2 618.1,439.4 622.6,443.1 627.0,441.9 631.5,438.7 635.9,442.2 640.4,436.9 644.8,441.5 649.3,435.4 653.7,436.2 658.2,441.9 662.6,431.2 667.0,442.2 671.5,440.0 675.9,439.8 680.4,435.4 684.8,440.7 689.3,430.0 693.7,439.4 698.2,443.5 702.6,440.0 707.1,433.1 711.5,439.6 716.0,442.5 720.4,438.7 724.9,433.1 729.3,438.1 733.8,441.0 738.2,443.4 742.7,436.9 747.1,446.9 751.6,441.9 756.0,444.4 760.4,441.9 764.9,443.5 769.3,438.7 773.8,443.3 778.2,437.6 782.7,436.3 787.1,439.6 791.6,441.1 796.0,438.6 800.5,440.9 804.9,432.4 809.4,439.6 813.8,436.6 818.3,438.6 822.7,433.4 827.2,443.1 831.6,436.6 836.1,444.6 840.5,440.1 845.0,439.6 849.4,432.4 849.4,606.5 845.0,613.5 840.5,614.0 836.1,618.5 831.6,610.5 827.2,616.5 822.7,607.0 818.3,612.5 813.8,610.2 809.4,613.5 804.9,606.5 800.5,614.5 796.0,612.5 791.6,614.5 787.1,613.0 782.7,610.2 778.2,611.5 773.8,617.0 769.3,612.9 764.9,616.8 760.4,615.7 756.0,618.0 751.6,615.8 747.1,620.0 742.7,610.5 738.2,616.8 733.8,614.5 729.3,612.5 724.9,607.0 720.4,612.5 716.0,615.8 711.5,613.5 707.1,607.2 702.6,613.5 698.2,616.8 693.7,613.0 689.3,604.0 684.8,615.0 680.4,609.3 675.9,613.3 671.5,613.8 667.0,615.5 662.6,605.0 658.2,615.5 653.7,610.5 649.3,609.5 644.8,614.5 640.4,610.5 635.9,615.5 631.5,614.0 627.0,615.5 622.6,616.8 618.1,613.0 613.7,611.5 609.2,612.5 604.8,611.8 600.3,613.5 595.9,615.0 591.4,616.8 587.0,607.0 582.5,603.8 578.1,609.0 573.6,616.5 569.2,600.5 564.8,609.0 560.3,606.0 555.9,609.5 551.4,614.5 547.0,608.5 542.5,604.0 538.1,604.5 533.6,593.8 529.2,609.5 524.7,610.0 520.3,606.0 515.8,604.5 511.4,605.5 506.9,608.5 502.5,604.5 498.0,602.5 493.6,610.0 489.1,610.0 484.7,612.0 480.2,607.2 475.8,602.5 471.4,606.5 466.9,611.5 462.5,609.5 458.0,608.0 453.6,604.8 449.1,612.0 444.7,607.0 440.2,611.0 435.8,602.5 431.3,608.0 426.9,609.5 422.4,613.5 418.0,610.0 413.5,603.8 409.1,607.8 404.6,611.5 400.2,612.5 395.7,608.0 391.3,606.8 386.8,606.5 382.4,605.5 378.0,604.5 373.5,608.0 369.1,601.5 364.6,604.5 360.2,592.8 355.7,600.0 351.3,601.0 346.8,599.0 342.4,601.5 337.9,603.5 333.5,594.7 329.0,605.5 324.6,593.8 320.1,601.0 315.7,600.0 311.2,608.0 306.8,607.0 302.3,573.5 297.9,577.5 293.4,575.5 289.0,575.5 284.6,573.5 280.1,587.5 275.7,586.5 271.2,587.5 266.8,583.5 262.3,581.8 257.9,575.5 253.4,573.5 249.0,586.0 244.5,577.0 240.1,584.5 235.6,583.5 231.2,588.5 226.7,574.5 222.3,582.8 217.8,577.5 213.4,580.8 208.9,575.5 204.5,595.5 200.0,592.6 195.6,595.5 191.2,583.5 186.7,585.5 182.3,569.0 177.8,580.5 173.4,588.5 168.9,576.5 164.5,577.0 160.0,581.5 155.6,588.5 151.1,575.5 146.7,578.8 142.2,576.5 137.8,569.0 133.3,580.8 128.9,570.8 124.4,571.5 120.0,571.5 115.5,570.0 111.1,576.0 106.6,570.8 102.2,572.8" fill="rgba(147,120,96,0.5)" stroke="none"/>
<polygon points="102.2,398.8 106.6,396.2 111.1,401.9 115.5,395.2 120.0,397.2 124.4,397.5 128.9,396.2 133.3,406.5 137.8,394.4 142.2,402.2 146.7,404.4 151.1,401.2 155.6,414.4 160.0,406.9 164.5,402.5 168.9,402.5 173.4,414.4 177.8,404.4 182.3,394.8 186.7,411.0 191.2,409.4 195.6,421.0 200.0,417.9 204.5,421.2 208.9,401.2 213.4,406.2 217.8,403.1 222.3,408.9 226.7,400.0 231.2,414.4 235.6,409.0 240.1,410.0 244.5,402.5 249.0,412.2 253.4,398.8 257.9,401.0 262.3,407.5 266.8,409.4 271.2,413.5 275.7,412.5 280.1,413.5 284.6,396.5 289.0,401.0 293.4,401.0 297.9,403.1 302.3,396.9 306.8,432.5 311.2,433.8 315.7,426.0 320.1,426.9 324.6,419.4 329.0,431.2 333.5,420.2 337.9,428.9 342.4,427.8 346.8,424.4 351.3,426.6 355.7,425.6 360.2,418.1 364.6,430.2 369.1,426.9 373.5,433.8 378.0,430.0 382.4,431.2 386.8,432.5 391.3,431.2 395.7,433.8 400.2,438.1 404.6,436.9 409.1,432.5 413.5,426.9 418.0,435.0 422.4,439.0 426.9,434.8 431.3,433.8 435.8,428.1 440.2,436.9 444.7,432.9 449.1,437.9 453.6,430.4 458.0,433.5 462.5,434.8 466.9,437.2 471.4,431.9 475.8,427.9 480.2,433.1 484.7,438.1 489.1,435.9 493.6,435.6 498.0,427.8 502.5,430.0 506.9,434.8 511.4,431.5 515.8,430.4 520.3,431.2 524.7,436.0 529.2,434.8 533.6,419.4 538.1,430.2 542.5,429.1 547.0,433.5 551.4,440.6 555.9,434.8 560.3,431.0 564.8,434.8 569.2,426.2 573.6,442.5 578.1,435.0 582.5,429.1 587.0,431.9 591.4,442.5 595.9,440.4 600.3,439.4 604.8,434.6 609.2,435.6 613.7,434.6 618.1,438.8 622.6,442.5 627.0,441.2 631.5,438.1 635.9,441.6 640.4,436.2 644.8,440.9 649.3,434.8 653.7,435.6 658.2,441.2 662.6,430.6 667.0,441.6 671.5,439.4 675.9,439.2 680.4,434.8 684.8,440.1 689.3,429.4 693.7,438.8 698.2,442.9 702.6,439.4 707.1,432.5 711.5,439.0 716.0,441.9 720.4,438.1 724.9,432.5 729.3,437.5 733.8,440.4 738.2,442.8 742.7,436.2 747.1,446.2 751.6,441.2 756.0,443.8 760.4,441.2 764.9,442.9 769.3,438.1 773.8,442.7 778.2,437.0 782.7,435.7 787.1,439.0 791.6,440.5 796.0,438.0 800.5,440.3 804.9,431.8 809.4,439.0 813.8,436.0 818.3,438.0 822.7,432.8 827.2,442.5 831.6,436.0 836.1,444.0 840.5,439.5 845.0,439.0 849.4,431.8 849.4,432.4 845.0,439.6 840.5,440.1 836.1,444.6 831.6,436.6 827.2,443.1 822.7,433.4 818.3,438.6 813.8,436.6 809.4,439.6 804.9,432.4 800.5,440.9 796.0,438.6 791.6,441.1 787.1,439.6 782.7,436.3 778.2,437.6 773.8,443.3 769.3,438.7 764.9,443.5 760.4,441.9 756.0,444.4 751.6,441.9 747.1,446.9 742.7,436.9 738.2,443.4 733.8,441.0 729.3,438.1 724.9,433.1 720.4,438.7 716.0,442.5 711.5,439.6 707.1,433.1 702.6,440.0 698.2,443.5 693.7,439.4 689.3,430.0 684.8,440.7 680.4,435.4 675.9,439.8 671.5,440.0 667.0,442.2 662.6,431.2 658.2,441.9 653.7,436.2 649.3,435.4 644.8,441.5 640.4,436.9 635.9,442.2 631.5,438.7 627.0,441.9 622.6,443.1 618.1,439.4 613.7,435.2 609.2,436.2 604.8,435.2 600.3,440.0 595.9,441.0 591.4,443.1 587.0,432.5 582.5,429.7 578.1,435.6 573.6,443.1 569.2,426.9 564.8,435.4 560.3,431.6 555.9,435.4 551.4,441.2 547.0,434.1 542.5,429.7 538.1,430.9 533.6,420.0 529.2,435.4 524.7,436.6 520.3,431.9 515.8,431.0 511.4,432.1 506.9,435.4 502.5,430.6 498.0,428.4 493.6,436.2 489.1,436.5 484.7,438.7 480.2,433.7 475.8,428.5 471.4,432.5 466.9,437.9 462.5,435.4 458.0,434.1 453.6,431.0 449.1,438.5 444.7,433.5 440.2,437.5 435.8,428.7 431.3,434.4 426.9,435.4 422.4,439.6 418.0,435.6 413.5,427.5 409.1,433.1 404.6,437.5 400.2,438.7 395.7,434.4 391.3,431.9 386.8,433.1 382.4,431.9 378.0,430.6 373.5,434.4 369.1,427.5 364.6,430.9 360.2,418.7 355.7,426.2 351.3,427.2 346.8,425.0 342.4,428.4 337.9,429.5 333.5,420.9 329.0,431.9 324.6,420.0 320.1,427.5 315.7,426.6 311.2,434.4 306.8,433.1 302.3,397.5 297.9,403.7 293.4,401.6 289.0,401.6 284.6,397.1 280.1,414.1 275.7,413.1 271.2,414.1 266.8,410.0 262.3,408.1 257.9,401.6 253.4,399.4 249.0,412.9 244.5,403.1 240.1,410.6 235.6,409.6 231.2,415.0 226.7,400.6 222.3,409.5 217.8,403.7 213.4,406.9 208.9,401.9 204.5,421.9 200.0,418.5 195.6,421.6 191.2,410.0 186.7,411.6 182.3,395.4 177.8,405.0 173.4,415.0 168.9,403.1 164.5,403.1 160.0,407.5 155.6,415.0 151.1,401.9 146.7,405.0 142.2,402.9 137.8,395.0 133.3,407.1 128.9,396.9 124.4,398.1 120.0,397.9 115.5,395.9 111.1,402.5 106.6,396.9 102.2,399.4" fill="rgba(129,114,179,0.5)" stroke="none"/>
<polygon points="102.2,218.5 106.6,216.0 111.1,219.2 115.5,215.2 120.0,217.2 124.4,217.2 128.9,216.1 133.3,225.3 137.8,215.1 142.2,220.0 146.7,225.0 151.1,221.9 155.6,232.5 160.0,225.4 164.5,220.6 168.9,219.4 173.4,231.4 177.8,222.0 182.3,210.0 186.7,244.2 191.2,244.4 195.6,255.6 200.0,253.1 204.5,253.1 208.9,237.7 213.4,239.4 217.8,238.5 222.3,241.7 226.7,233.5 231.2,250.6 235.6,242.2 240.1,245.2 244.5,237.5 249.0,243.8 253.4,232.2 257.9,231.0 262.3,239.0 266.8,239.8 271.2,244.0 275.7,244.4 280.1,241.9 284.6,227.5 289.0,231.5 293.4,232.0 297.9,233.0 302.3,225.6 306.8,263.1 311.2,266.5 315.7,259.2 320.1,259.0 324.6,252.5 329.0,262.9 333.5,252.5 337.9,258.5 342.4,260.1 346.8,257.7 351.3,258.7 355.7,255.6 360.2,247.0 364.6,260.0 369.1,258.8 373.5,265.5 378.0,261.0 382.4,262.0 386.8,262.2 391.3,263.3 395.7,264.5 400.2,270.0 404.6,265.7 409.1,261.1 413.5,256.7 418.0,265.5 422.4,268.9 426.9,265.7 431.3,264.4 435.8,262.2 440.2,267.5 444.7,262.5 449.1,270.0 453.6,263.4 458.0,266.2 462.5,266.2 466.9,269.8 471.4,265.0 475.8,261.2 480.2,270.0 484.7,274.8 489.1,272.5 493.6,272.5 498.0,261.2 502.5,264.0 506.9,271.0 511.4,268.8 515.8,265.6 520.3,263.1 524.7,270.0 529.2,266.6 533.6,251.2 538.1,262.2 542.5,259.0 547.0,267.5 551.4,275.6 555.9,266.9 560.3,259.0 564.8,260.9 569.2,259.0 573.6,276.2 578.1,270.6 582.5,265.6 587.0,267.5 591.4,275.2 595.9,274.0 600.3,271.9 604.8,267.9 609.2,270.0 613.7,270.2 618.1,272.5 622.6,275.6 627.0,274.4 631.5,272.5 635.9,273.3 640.4,268.9 644.8,275.0 649.3,266.9 653.7,270.6 658.2,274.8 662.6,263.8 667.0,271.2 671.5,272.5 675.9,268.8 680.4,268.8 684.8,274.4 689.3,259.1 693.7,269.4 698.2,274.8 702.6,271.9 707.1,264.6 711.5,271.2 716.0,269.8 720.4,268.8 724.9,265.4 729.3,269.4 733.8,273.1 738.2,274.5 742.7,268.1 747.1,274.9 751.6,277.8 756.0,281.2 760.4,275.0 764.9,278.5 769.3,272.5 773.8,275.4 778.2,271.0 782.7,269.1 787.1,271.9 791.6,275.6 796.0,272.5 800.5,270.6 804.9,265.6 809.4,272.2 813.8,270.0 818.3,271.9 822.7,265.6 827.2,276.5 831.6,269.1 836.1,274.4 840.5,270.0 845.0,271.9 849.4,262.5 849.4,431.8 845.0,439.0 840.5,439.5 836.1,444.0 831.6,436.0 827.2,442.5 822.7,432.8 818.3,438.0 813.8,436.0 809.4,439.0 804.9,431.8 800.5,440.3 796.0,438.0 791.6,440.5 787.1,439.0 782.7,435.7 778.2,437.0 773.8,442.7 769.3,438.1 764.9,442.9 760.4,441.2 756.0,443.8 751.6,441.2 747.1,446.2 742.7,436.2 738.2,442.8 733.8,440.4 729.3,437.5 724.9,432.5 720.4,438.1 716.0,441.9 711.5,439.0 707.1,432.5 702.6,439.4 698.2,442.9 693.7,438.8 689.3,429.4 684.8,440.1 680.4,434.8 675.9,439.2 671.5,439.4 667.0,441.6 662.6,430.6 658.2,441.2 653.7,435.6 649.3,434.8 644.8,440.9 640.4,436.2 635.9,441.6 631.5,438.1 627.0,441.2 622.6,442.5 618.1,438.8 613.7,434.6 609.2,435.6 604.8,434.6 600.3,439.4 595.9,440.4 591.4,442.5 587.0,431.9 582.5,429.1 578.1,435.0 573.6,442.5 569.2,426.2 564.8,434.8 560.3,431.0 555.9,434.8 551.4,440.6 547.0,433.5 542.5,429.1 538.1,430.2 533.6,419.4 529.2,434.8 524.7,436.0 520.3,431.2 515.8,430.4 511.4,431.5 506.9,434.8 502.5,430.0 498.0,427.8 493.6,435.6 489.1,435.9 484.7,438.1 480.2,433.1 475.8,427.9 471.4,431.9 466.9,437.2 462.5,434.8 458.0,433.5 453.6,430.4 449.1,437.9 444.7,432.9 440.2,436.9 435.8,428.1 431.3,433.8 426.9,434.8 422.4,439.0 418.0,435.0 413.5,426.9 409.1,432.5 404.6,436.9 400.2,438.1 395.7,433.8 391.3,431.2 386.8,432.5 382.4,431.2 378.0,430.0 373.5,433.8 369.1,426.9 364.6,430.2 360.2,418.1 355.7,425.6 351.3,426.6 346.8,424.4 342.4,427.8 337.9,428.9 333.5,420.2 329.0,431.2 324.6,419.4 320.1,426.9 315.7,426.0 311.2,433.8 306.8,432.5 302.3,396.9 297.9,403.1 293.4,401.0 289.0,401.0 284.6,396.5 280.1,413.5 275.7,412.5 271.2,413.5 266.8,409.4 262.3,407.5 257.9,401.0 253.4,398.8 249.0,412.2 244.5,402.5 240.1,410.0 235.6,409.0 231.2,414.4 226.7,400.0 222.3,408.9 217.8,403.1 213.4,406.2 208.9,401.2 204.5,421.2 200.0,417.9 195.6,421.0 191.2,409.4 186.7,411.0 182.3,394.8 177.8,404.4 173.4,414.4 168.9,402.5 164.5,402.5 160.0,406.9 155.6,414.4 151.1,401.2 146.7,404.4 142.2,402.2 137.8,394.4 133.3,406.5 128.9,396.2 124.4,397.5 120.0,397.2 115.5,395.2 111.1,401.9 106.6,396.2 102.2,398.8" fill="rgba(196,78,82,0.5)" stroke="none"/>
<polygon points="102.2,218.5 106.6,216.0 111.1,219.2 115.5,215.2 120.0,217.2 124.4,217.2 128.9,216.1 133.3,225.3 137.8,215.1 142.2,220.0 146.7,225.0 151.1,221.9 155.6,232.5 160.0,225.4 164.5,220.6 168.9,219.4 173.4,231.4 177.8,222.0 182.3,210.0 186.7,244.2 191.2,244.4 195.6,255.6 200.0,253.1 204.5,253.1 208.9,237.7 213.4,239.4 217.8,238.5 222.3,241.7 226.7,233.5 231.2,250.6 235.6,242.2 240.1,245.2 244.5,237.5 249.0,243.8 253.4,232.2 257.9,231.0 262.3,239.0 266.8,239.8 271.2,244.0 275.7,244.4 280.1,241.9 284.6,227.5 289.0,231.5 293.4,232.0 297.9,233.0 302.3,225.6 306.8,263.1 311.2,266.5 315.7,259.2 320.1,259.0 324.6,252.5 329.0,262.9 333.5,252.5 337.9,258.5 342.4,260.1 346.8,257.7 351.3,258.7 355.7,255.6 360.2,247.0 364.6,260.0 369.1,258.8 373.5,265.5 378.0,261.0 382.4,262.0 386.8,262.2 391.3,263.3 395.7,264.5 400.2,270.0 404.6,265.7 409.1,261.1 413.5,256.7 418.0,265.5 422.4,268.9 426.9,265.7 431.3,264.4 435.8,262.2 440.2,267.5 444.7,262.5 449.1,270.0 453.6,263.4 458.0,266.2 462.5,266.2 466.9,269.8 471.4,265.0 475.8,261.2 480.2,270.0 484.7,274.8 489.1,272.5 493.6,272.5 498.0,261.2 502.5,264.0 506.9,271.0 511.4,268.8 515.8,265.6 520.3,263.1 524.7,270.0 529.2,266.6 533.6,251.2 538.1,262.2 542.5,259.0 547.0,267.5 551.4,275.6 555.9,266.9 560.3,259.0 564.8,260.9 569.2,259.0 573.6,276.2 578.1,270.6 582.5,265.6 587.0,267.5 591.4,275.2 595.9,274.0 600.3,271.9 604.8,267.9 609.2,270.0 613.7,270.2 618.1,272.5 622.6,275.6 627.0,274.4 631.5,272.5 635.9,273.3 640.4,268.9 644.8,275.0 649.3,266.9 653.7,270.6 658.2,274.8 662.6,263.8 667.0,271.2 671.5,272.5 675.9,268.8 680.4,268.8 684.8,274.4 689.3,259.1 693.7,269.4 698.2,274.8 702.6,271.9 707.1,264.6 711.5,271.2 716.0,269.8 720.4,268.8 724.9,265.4 729.3,269.4 733.8,273.1 738.2,274.5 742.7,268.1 747.1,274.9 751.6,277.8 756.0,281.2 760.4,275.0 764.9,278.5 769.3,272.5 773.8,275.4 778.2,271.0 782.7,269.1 787.1,271.9 791.6,275.6 796.0,272.5 800.5,270.6 804.9,265.6 809.4,272.2 813.8,270.0 818.3,271.9 822.7,265.6 827.2,276.5 831.6,269.1 836.1,274.4 840.5,270.0 845.0,271.9 849.4,262.5 849.4,262.5 845.0,271.9 840.5,270.0 836.1,274.4 831.6,269.1 827.2,276.5 822.7,265.6 818.3,271.9 813.8,270.0 809.4,272.2 804.9,265.6 800.5,270.6 796.0,272.5 791.6,275.6 787.1,271.9 782.7,269.1 778.2,271.0 773.8,275.4 769.3,272.5 764.9,278.5 760.4,275.0 756.0,281.2 751.6,277.8 747.1,274.9 742.7,268.1 738.2,274.5 733.8,273.1 729.3,269.4 724.9,265.4 720.4,268.8 716.0,269.8 711.5,271.2 707.1,264.6 702.6,271.9 698.2,274.8 693.7,269.4 689.3,259.1 684.8,274.4 680.4,268.8 675.9,268.8 671.5,272.5 667.0,271.2 662.6,263.8 658.2,274.8 653.7,270.6 649.3,266.9 644.8,275.0 640.4,268.9 635.9,273.3 631.5,272.5 627.0,274.4 622.6,275.6 618.1,272.5 613.7,270.2 609.2,270.0 604.8,267.9 600.3,271.9 595.9,274.0 591.4,275.2 587.0,267.5 582.5,265.6 578.1,270.6 573.6,276.2 569.2,259.0 564.8,260.9 560.3,259.0 555.9,266.9 551.4,275.6 547.0,267.5 542.5,259.0 538.1,262.2 533.6,251.2 529.2,266.6 524.7,270.0 520.3,263.1 515.8,265.6 511.4,268.8 506.9,271.0 502.5,264.0 498.0,261.2 493.6,272.5 489.1,272.5 484.7,274.8 480.2,270.0 475.8,261.2 471.4,265.0 466.9,269.8 462.5,266.2 458.0,266.2 453.6,263.4 449.1,270.0 444.7,262.5 440.2,267.5 435.8,262.2 431.3,264.4 426.9,265.7 422.4,268.9 418.0,265.5 413.5,256.7 409.1,261.1 404.6,265.7 400.2,270.0 395.7,264.5 391.3,263.3 386.8,262.2 382.4,262.0 378.0,261.0 373.5,265.5 369.1,258.8 364.6,260.0 360.2,247.0 355.7,255.6 351.3,258.7 346.8,257.7 342.4,260.1 337.9,258.5 333.5,252.5 329.0,262.9 324.6,252.5 320.1,259.0 315.7,259.2 311.2,266.5 306.8,263.1 302.3,225.6 297.9,233.0 293.4,232.0 289.0,231.5 284.6,227.5 280.1,241.9 275.7,244.4 271.2,244.0 266.8,239.8 262.3,239.0 257.9,231.0 253.4,232.2 249.0,243.8 244.5,237.5 240.1,245.2 235.6,242.2 231.2,250.6 226.7,233.5 222.3,241.7 217.8,238.5 213.4,239.4 208.9,237.7 204.5,253.1 200.0,253.1 195.6,255.6 191.2,244.4 186.7,244.2 182.3,210.0 177.8,222.0 173.4,231.4 168.9,219.4 164.5,220.6 160.0,225.4 155.6,232.5 151.1,221.9 146.7,225.0 142.2,220.0 137.8,215.1 133.3,225.3 128.9,216.1 124.4,217.2 120.0,217.2 115.5,215.2 111.1,219.2 106.6,216.0 102.2,218.5" fill="rgba(85,168,104,0.5)" stroke="none"/>
<polygon points="102.2,202.5 106.6,200.3 111.1,203.5 115.5,199.2 120.0,201.0 124.4,202.0 128.9,201.3 133.3,211.3 137.8,200.5 142.2,205.5 146.7,210.3 151.1,207.3 155.6,218.0 160.0,211.5 164.5,207.0 168.9,206.0 173.4,217.8 177.8,209.5 182.3,181.5 186.7,216.0 191.2,216.2 195.6,227.3 200.0,225.2 204.5,226.5 208.9,210.7 213.4,212.5 217.8,211.5 222.3,214.5 226.7,206.5 231.2,223.5 235.6,215.3 240.1,218.3 244.5,210.7 249.0,216.8 253.4,206.0 257.9,205.0 262.3,213.5 266.8,213.8 271.2,217.0 275.7,218.5 280.1,216.3 284.6,201.5 289.0,205.5 293.4,205.6 297.9,207.3 302.3,197.6 306.8,236.4 311.2,239.5 315.7,232.0 320.1,232.0 324.6,225.5 329.0,236.0 333.5,225.5 337.9,231.8 342.4,233.0 346.8,230.8 351.3,230.5 355.7,229.5 360.2,221.4 364.6,232.6 369.1,233.2 373.5,239.5 378.0,233.2 382.4,235.1 386.8,232.0 391.3,237.2 395.7,236.4 400.2,242.6 404.6,239.0 409.1,229.5 413.5,229.5 418.0,240.1 422.4,244.1 426.9,240.8 431.3,239.5 435.8,237.4 440.2,243.0 444.7,237.6 449.1,245.1 453.6,238.6 458.0,242.0 462.5,241.0 466.9,244.2 471.4,238.9 475.8,235.5 480.2,243.9 484.7,248.5 489.1,246.6 493.6,246.4 498.0,236.6 502.5,238.9 506.9,245.1 511.4,242.6 515.8,239.5 520.3,237.4 524.7,244.4 529.2,241.4 533.6,225.4 538.1,236.0 542.5,233.2 547.0,241.4 551.4,249.5 555.9,241.4 560.3,233.2 564.8,234.5 569.2,231.8 573.6,248.5 578.1,242.0 582.5,237.6 587.0,239.5 591.4,247.4 595.9,245.5 600.3,243.9 604.8,238.6 609.2,240.8 613.7,241.0 618.1,243.2 622.6,246.4 627.0,245.1 631.5,243.2 635.9,243.1 640.4,237.6 644.8,244.9 649.3,237.4 653.7,240.8 658.2,245.1 662.6,234.5 667.0,242.0 671.5,243.2 675.9,239.5 680.4,239.5 684.8,245.1 689.3,228.9 693.7,239.5 698.2,244.2 702.6,241.4 707.1,234.2 711.5,240.5 716.0,239.8 720.4,239.5 724.9,236.4 729.3,240.1 733.8,243.9 738.2,245.3 742.7,238.9 747.1,245.5 751.6,248.7 756.0,252.0 760.4,246.0 764.9,249.5 769.3,243.2 773.8,246.4 778.2,242.0 782.7,239.8 787.1,243.0 791.6,246.4 796.0,242.2 800.5,240.8 804.9,236.4 809.4,243.0 813.8,240.8 818.3,243.0 822.7,236.4 827.2,246.4 831.6,237.6 836.1,243.9 840.5,239.8 845.0,241.4 849.4,231.4 849.4,262.5 845.0,271.9 840.5,270.0 836.1,274.4 831.6,269.1 827.2,276.5 822.7,265.6 818.3,271.9 813.8,270.0 809.4,272.2 804.9,265.6 800.5,270.6 796.0,272.5 791.6,275.6 787.1,271.9 782.7,269.1 778.2,271.0 773.8,275.4 769.3,272.5 764.9,278.5 760.4,275.0 756.0,281.2 751.6,277.8 747.1,274.9 742.7,268.1 738.2,274.5 733.8,273.1 729.3,269.4 724.9,265.4 720.4,268.8 716.0,269.8 711.5,271.2 707.1,264.6 702.6,271.9 698.2,274.8 693.7,269.4 689.3,259.1 684.8,274.4 680.4,268.8 675.9,268.8 671.5,272.5 667.0,271.2 662.6,263.8 658.2,274.8 653.7,270.6 649.3,266.9 644.8,275.0 640.4,268.9 635.9,273.3 631.5,272.5 627.0,274.4 622.6,275.6 618.1,272.5 613.7,270.2 609.2,270.0 604.8,267.9 600.3,271.9 595.9,274.0 591.4,275.2 587.0,267.5 582.5,265.6 578.1,270.6 573.6,276.2 569.2,259.0 564.8,260.9 560.3,259.0 555.9,266.9 551.4,275.6 547.0,267.5 542.5,259.0 538.1,262.2 533.6,251.2 529.2,266.6 524.7,270.0 520.3,263.1 515.8,265.6 511.4,268.8 506.9,271.0 502.5,264.0 498.0,261.2 493.6,272.5 489.1,272.5 484.7,274.8 480.2,270.0 475.8,261.2 471.4,265.0 466.9,269.8 462.5,266.2 458.0,266.2 453.6,263.4 449.1,270.0 444.7,262.5 440.2,267.5 435.8,262.2 431.3,264.4 426.9,265.7 422.4,268.9 418.0,265.5 413.5,256.7 409.1,261.1 404.6,265.7 400.2,270.0 395.7,264.5 391.3,263.3 386.8,262.2 382.4,262.0 378.0,261.0 373.5,265.5 369.1,258.8 364.6,260.0 360.2,247.0 355.7,255.6 351.3,258.7 346.8,257.7 342.4,260.1 337.9,258.5 333.5,252.5 329.0,262.9 324.6,252.5 320.1,259.0 315.7,259.2 311.2,266.5 306.8,263.1 302.3,225.6 297.9,233.0 293.4,232.0 289.0,231.5 284.6,227.5 280.1,241.9 275.7,244.4 271.2,244.0 266.8,239.8 262.3,239.0 257.9,231.0 253.4,232.2 249.0,243.8 244.5,237.5 240.1,245.2 235.6,242.2 231.2,250.6 226.7,233.5 222.3,241.7 217.8,238.5 213.4,239.4 208.9,237.7 204.5,253.1 200.0,253.1 195.6,255.6 191.2,244.4 186.7,244.2 182.3,210.0 177.8,222.0 173.4,231.4 168.9,219.4 164.5,220.6 160.0,225.4 155.6,232.5 151.1,221.9 146.7,225.0 142.2,220.0 137.8,215.1 133.3,225.3 128.9,216.1 124.4,217.2 120.0,217.2 115.5,215.2 111.1,219.2 106.6,216.0 102.2,218.5" fill="rgba(221,132,82,0.5)" stroke="none"/>
<polygon points="102.2,175.5 106.6,173.3 111.1,176.5 115.5,172.2 120.0,174.0 124.4,175.0 128.9,174.3 133.3,184.3 137.8,173.5 142.2,178.5 146.7,183.3 151.1,180.3 155.6,191.0 160.0,184.5 164.5,180.0 168.9,179.0 173.4,190.8 177.8,182.5 182.3,154.5 186.7,189.0 191.2,189.2 195.6,200.3 200.0,198.2 204.5,199.5 208.9,183.7 213.4,185.5 217.8,184.5 222.3,187.5 226.7,179.5 231.2,196.5 235.6,188.3 240.1,191.3 244.5,183.7 249.0,189.8 253.4,179.0 257.9,178.0 262.3,186.5 266.8,186.8 271.2,190.0 275.7,191.5 280.1,189.3 284.6,174.5 289.0,178.5 293.4,178.6 297.9,180.3 302.3,170.6 306.8,209.4 311.2,212.5 315.7,205.0 320.1,205.0 324.6,198.5 329.0,209.0 333.5,198.5 337.9,204.8 342.4,206.0 346.8,203.8 351.3,203.5 355.7,202.5 360.2,194.4 364.6,205.6 369.1,206.2 373.5,212.5 378.0,206.2 382.4,208.1 386.8,205.0 391.3,210.2 395.7,209.4 400.2,215.6 404.6,212.0 409.1,202.5 413.5,202.5 418.0,213.1 422.4,217.1 426.9,213.8 431.3,212.5 435.8,210.4 440.2,216.0 444.7,210.6 449.1,218.1 453.6,211.6 458.0,215.0 462.5,214.0 466.9,217.2 471.4,211.9 475.8,208.5 480.2,216.9 484.7,221.5 489.1,219.6 493.6,219.4 498.0,209.6 502.5,211.9 506.9,218.1 511.4,215.6 515.8,212.5 520.3,210.4 524.7,217.4 529.2,214.4 533.6,198.4 538.1,209.0 542.5,206.2 547.0,214.4 551.4,222.5 555.9,214.4 560.3,206.2 564.8,207.5 569.2,204.8 573.6,221.5 578.1,215.0 582.5,210.6 587.0,212.5 591.4,220.4 595.9,218.5 600.3,216.9 604.8,211.6 609.2,213.8 613.7,214.0 618.1,216.2 622.6,219.4 627.0,218.1 631.5,216.2 635.9,216.1 640.4,210.6 644.8,217.9 649.3,210.4 653.7,213.8 658.2,218.1 662.6,207.5 667.0,215.0 671.5,216.2 675.9,212.5 680.4,212.5 684.8,218.1 689.3,201.9 693.7,212.5 698.2,217.2 702.6,214.4 707.1,207.2 711.5,213.5 716.0,212.8 720.4,212.5 724.9,209.4 729.3,213.1 733.8,216.9 738.2,218.3 742.7,211.9 747.1,218.5 751.6,221.7 756.0,225.0 760.4,219.0 764.9,222.5 769.3,216.2 773.8,219.4 778.2,215.0 782.7,212.8 787.1,216.0 791.6,219.4 796.0,215.2 800.5,213.8 804.9,209.4 809.4,216.0 813.8,213.8 818.3,216.0 822.7,209.4 827.2,219.4 831.6,210.6 836.1,216.9 840.5,212.8 845.0,214.4 849.4,204.4 849.4,231.4 845.0,241.4 840.5,239.8 836.1,243.9 831.6,237.6 827.2,246.4 822.7,236.4 818.3,243.0 813.8,240.8 809.4,243.0 804.9,236.4 800.5,240.8 796.0,242.2 791.6,246.4 787.1,243.0 782.7,239.8 778.2,242.0 773.8,246.4 769.3,243.2 764.9,249.5 760.4,246.0 756.0,252.0 751.6,248.7 747.1,245.5 742.7,238.9 738.2,245.3 733.8,243.9 729.3,240.1 724.9,236.4 720.4,239.5 716.0,239.8 711.5,240.5 707.1,234.2 702.6,241.4 698.2,244.2 693.7,239.5 689.3,228.9 684.8,245.1 680.4,239.5 675.9,239.5 671.5,243.2 667.0,242.0 662.6,234.5 658.2,245.1 653.7,240.8 649.3,237.4 644.8,244.9 640.4,237.6 635.9,243.1 631.5,243.2 627.0,245.1 622.6,246.4 618.1,243.2 613.7,241.0 609.2,240.8 604.8,238.6 600.3,243.9 595.9,245.5 591.4,247.4 587.0,239.5 582.5,237.6 578.1,242.0 573.6,248.5 569.2,231.8 564.8,234.5 560.3,233.2 555.9,241.4 551.4,249.5 547.0,241.4 542.5,233.2 538.1,236.0 533.6,225.4 529.2,241.4 524.7,244.4 520.3,237.4 515.8,239.5 511.4,242.6 506.9,245.1 502.5,238.9 498.0,236.6 493.6,246.4 489.1,246.6 484.7,248.5 480.2,243.9 475.8,235.5 471.4,238.9 466.9,244.2 462.5,241.0 458.0,242.0 453.6,238.6 449.1,245.1 444.7,237.6 440.2,243.0 435.8,237.4 431.3,239.5 426.9,240.8 422.4,244.1 418.0,240.1 413.5,229.5 409.1,229.5 404.6,239.0 400.2,242.6 395.7,236.4 391.3,237.2 386.8,232.0 382.4,235.1 378.0,233.2 373.5,239.5 369.1,233.2 364.6,232.6 360.2,221.4 355.7,229.5 351.3,230.5 346.8,230.8 342.4,233.0 337.9,231.8 333.5,225.5 329.0,236.0 324.6,225.5 320.1,232.0 315.7,232.0 311.2,239.5 306.8,236.4 302.3,197.6 297.9,207.3 293.4,205.6 289.0,205.5 284.6,201.5 280.1,216.3 275.7,218.5 271.2,217.0 266.8,213.8 262.3,213.5 257.9,205.0 253.4,206.0 249.0,216.8 244.5,210.7 240.1,218.3 235.6,215.3 231.2,223.5 226.7,206.5 222.3,214.5 217.8,211.5 213.4,212.5 208.9,210.7 204.5,226.5 200.0,225.2 195.6,227.3 191.2,216.2 186.7,216.0 182.3,181.5 177.8,209.5 173.4,217.8 168.9,206.0 164.5,207.0 160.0,211.5 155.6,218.0 151.1,207.3 146.7,210.3 142.2,205.5 137.8,200.5 133.3,211.3 128.9,201.3 124.4,202.0 120.0,201.0 115.5,199.2 111.1,203.5 106.6,200.3 102.2,202.5" fill="rgba(76,114,176,0.5)" stroke="none"/>
<polyline points="102.2,615.2 106.6,613.5 111.1,619.0 115.5,612.6 120.0,614.2 124.4,614.2 128.9,614.5 133.3,624.2 137.8,612.6 142.2,620.4 146.7,623.5 151.1,620.0 155.6,633.4 160.0,626.5 164.5,622.4 168.9,622.4 173.4,634.8 177.8,624.5 182.3,614.9 186.7,631.4 191.2,627.9 195.6,639.3 200.0,636.2 204.5,638.2 208.9,618.3 213.4,623.4 217.8,620.4 222.3,625.5 226.7,617.2 231.2,631.2 235.6,626.0 240.1,627.5 244.5,620.6 249.0,629.8 253.4,616.9 257.9,618.8 262.3,624.0 266.8,626.2 271.2,630.4 275.7,629.0 280.1,631.2 284.6,618.1 289.0,620.2 293.4,620.2 297.9,622.2 302.3,619.0 306.8,651.5 311.2,652.5 315.7,644.0 320.1,645.0 324.6,637.5 329.0,649.0 333.5,640.6 337.9,649.3 342.4,648.1 346.8,645.0 351.3,644.8 355.7,643.5 360.2,636.2 364.6,648.1 369.1,646.2 373.5,651.2 378.0,648.1 382.4,649.5 386.8,650.9 391.3,652.2 395.7,653.6 400.2,655.0 404.6,653.8 409.1,650.0 413.5,646.2 418.0,652.5 422.4,656.2 426.9,651.0 431.3,649.8 435.8,643.1 440.2,651.2 444.7,647.7 449.1,653.8 453.6,647.4 458.0,652.5 462.5,650.4 466.9,652.5 471.4,648.1 475.8,644.0 480.2,649.1 484.7,653.8 489.1,651.5 493.6,652.5 498.0,645.0 502.5,644.8 506.9,649.4 511.4,645.6 515.8,643.8 520.3,645.6 524.7,649.4 529.2,648.4 533.6,633.1 538.1,644.4 542.5,643.5 547.0,648.1 551.4,653.5 555.9,648.8 560.3,647.0 564.8,650.2 569.2,641.2 573.6,655.6 578.1,647.5 582.5,642.8 587.0,645.0 591.4,654.8 595.9,652.5 600.3,651.2 604.8,649.4 609.2,650.4 613.7,649.6 618.1,651.0 622.6,654.6 627.0,652.5 631.5,650.4 635.9,652.5 640.4,647.5 644.8,651.2 649.3,647.2 653.7,648.8 658.2,653.5 662.6,643.1 667.0,653.8 671.5,651.5 675.9,651.1 680.4,649.4 684.8,653.6 689.3,642.2 693.7,651.5 698.2,655.0 702.6,651.5 707.1,645.4 711.5,651.5 716.0,654.0 720.4,651.2 724.9,645.4 729.3,650.6 733.8,652.9 738.2,654.0 742.7,647.2 747.1,657.5 751.6,653.1 756.0,656.2 760.4,653.8 764.9,655.0 769.3,650.6 773.8,654.9 778.2,649.0 782.7,647.3 787.1,650.5 791.6,652.7 796.0,650.3 800.5,652.2 804.9,644.5 809.4,651.3 813.8,648.3 818.3,650.3 822.7,646.5 827.2,655.8 831.6,649.0 836.1,656.8 840.5,652.0 845.0,651.0 849.4,645.3" fill="none" stroke="#C44E52" stroke-width="0.8" stroke-linejoin="round"/>
<polyline points="102.2,598.2 106.6,596.5 111.1,602.0 115.5,595.6 120.0,597.2 124.4,597.2 128.9,597.5 133.3,607.2 137.8,595.6 142.2,603.4 146.7,606.5 151.1,603.0 155.6,616.4 160.0,609.5 164.5,605.4 168.9,605.4 173.4,617.8 177.8,607.5 182.3,597.9 186.7,614.4 191.2,610.9 195.6,622.3 200.0,619.2 204.5,621.2 208.9,601.3 213.4,606.4 217.8,603.4 222.3,608.5 226.7,600.2 231.2,614.2 235.6,609.0 240.1,610.5 244.5,603.6 249.0,612.8 253.4,599.9 257.9,601.8 262.3,607.0 266.8,609.2 271.2,613.4 275.7,612.0 280.1,614.2 284.6,601.1 289.0,603.2 293.4,603.2 297.9,605.2 302.3,602.0 306.8,634.5 311.2,635.5 315.7,627.0 320.1,628.0 324.6,620.5 329.0,632.0 333.5,623.6 337.9,632.3 342.4,631.1 346.8,628.0 351.3,627.8 355.7,626.5 360.2,619.2 364.6,631.1 369.1,629.2 373.5,634.2 378.0,631.1 382.4,632.5 386.8,633.9 391.3,635.2 395.7,636.6 400.2,638.0 404.6,636.8 409.1,633.0 413.5,629.2 418.0,635.5 422.4,639.2 426.9,634.0 431.3,632.8 435.8,626.1 440.2,634.2 444.7,630.7 449.1,636.8 453.6,630.4 458.0,635.5 462.5,633.4 466.9,635.5 471.4,631.1 475.8,627.0 480.2,632.1 484.7,636.8 489.1,634.5 493.6,635.5 498.0,628.0 502.5,627.8 506.9,632.4 511.4,628.6 515.8,626.8 520.3,628.6 524.7,632.4 529.2,631.4 533.6,616.1 538.1,627.4 542.5,626.5 547.0,631.1 551.4,636.5 555.9,631.8 560.3,630.0 564.8,633.2 569.2,624.2 573.6,638.6 578.1,630.5 582.5,625.8 587.0,628.0 591.4,637.8 595.9,635.5 600.3,634.2 604.8,632.4 609.2,633.4 613.7,632.6 618.1,634.0 622.6,637.6 627.0,635.5 631.5,633.4 635.9,635.5 640.4,630.5 644.8,634.2 649.3,630.2 653.7,631.8 658.2,636.5 662.6,626.1 667.0,636.8 671.5,634.5 675.9,634.1 680.4,632.4 684.8,636.6 689.3,625.2 693.7,634.5 698.2,638.0 702.6,634.5 707.1,628.4 711.5,634.5 716.0,637.0 720.4,634.2 724.9,628.4 729.3,633.6 733.8,635.9 738.2,637.0 742.7,630.2 747.1,640.5 751.6,636.1 756.0,639.2 760.4,636.8 764.9,638.0 769.3,633.6 773.8,637.9 778.2,632.0 782.7,630.3 787.1,633.5 791.6,635.7 796.0,633.3 800.5,635.2 804.9,627.5 809.4,634.3 813.8,631.3 818.3,633.3 822.7,629.5 827.2,638.8 831.6,632.0 836.1,639.8 840.5,635.0 845.0,634.0 849.4,628.3" fill="none" stroke="#DD8452" stroke-width="0.8" stroke-linejoin="round"/>
<polyline points="102.2,597.4 106.6,595.7 111.1,601.2 115.5,594.8 120.0,596.4 124.4,596.4 128.9,596.7 133.3,606.4 137.8,594.8 142.2,602.6 146.7,605.7 151.1,602.2 155.6,615.6 160.0,608.7 164.5,604.6 168.9,604.6 173.4,617.0 177.8,606.7 182.3,597.1 186.7,613.6 191.2,610.1 195.6,621.5 200.0,618.4 204.5,620.4 208.9,600.5 213.4,605.6 217.8,602.6 222.3,607.7 226.7,599.5 231.2,613.5 235.6,608.2 240.1,609.7 244.5,602.8 249.0,612.0 253.4,599.1 257.9,601.0 262.3,606.2 266.8,608.5 271.2,612.6 275.7,611.2 280.1,613.5 284.6,600.3 289.0,602.5 293.4,602.5 297.9,604.5 302.3,601.2 306.8,633.7 311.2,634.7 315.7,626.2 320.1,627.2 324.6,619.7 329.0,631.2 333.5,622.8 337.9,631.5 342.4,630.3 346.8,627.2 351.3,627.0 355.7,625.7 360.2,618.5 364.6,630.3 369.1,628.5 373.5,633.5 378.0,630.3 382.4,631.7 386.8,633.1 391.3,634.5 395.7,635.8 400.2,637.2 404.6,636.0 409.1,632.2 413.5,628.5 418.0,634.7 422.4,638.5 426.9,633.2 431.3,632.0 435.8,625.3 440.2,633.5 444.7,629.9 449.1,636.0 453.6,629.6 458.0,634.7 462.5,632.6 466.9,634.7 471.4,630.3 475.8,626.2 480.2,631.3 484.7,636.0 489.1,633.7 493.6,634.7 498.0,627.2 502.5,627.0 506.9,631.6 511.4,627.8 515.8,626.0 520.3,627.8 524.7,631.6 529.2,630.6 533.6,615.3 538.1,626.6 542.5,625.7 547.0,630.3 551.4,635.7 555.9,631.0 560.3,629.2 564.8,632.4 569.2,623.5 573.6,637.8 578.1,629.7 582.5,625.0 587.0,627.2 591.4,637.0 595.9,634.7 600.3,633.5 604.8,631.6 609.2,632.6 613.7,631.8 618.1,633.2 622.6,636.8 627.0,634.7 631.5,632.6 635.9,634.7 640.4,629.7 644.8,633.5 649.3,629.5 653.7,631.0 658.2,635.7 662.6,625.3 667.0,636.0 671.5,633.7 675.9,633.3 680.4,631.6 684.8,635.8 689.3,624.5 693.7,633.7 698.2,637.2 702.6,633.7 707.1,627.6 711.5,633.7 716.0,636.2 720.4,633.5 724.9,627.6 729.3,632.8 733.8,635.1 738.2,636.2 742.7,629.5 747.1,639.7 751.6,635.3 756.0,638.5 760.4,636.0 764.9,637.2 769.3,632.8 773.8,637.1 778.2,631.2 782.7,629.5 787.1,632.7 791.6,634.9 796.0,632.5 800.5,634.4 804.9,626.7 809.4,633.5 813.8,630.5 818.3,632.5 822.7,628.7 827.2,638.0 831.6,631.2 836.1,639.0 840.5,634.2 845.0,633.2 849.4,627.5" fill="none" stroke="#4C72B0" stroke-width="0.8" stroke-linejoin="round"/>
<polyline points="102.2,580.1 106.6,578.1 111.1,583.3 115.5,577.3 120.0,578.9 124.4,578.9 128.9,578.2 133.3,588.2 137.8,576.4 142.2,584.0 146.7,586.3 151.1,583.1 155.6,596.2 160.0,589.2 164.5,584.8 168.9,584.4 173.4,596.5 177.8,588.5 182.3,577.1 186.7,593.4 191.2,591.1 195.6,602.9 200.0,599.7 204.5,603.1 208.9,583.6 213.4,588.8 217.8,585.4 222.3,590.6 226.7,582.2 231.2,596.1 235.6,591.0 240.1,591.9 244.5,584.3 249.0,593.2 253.4,580.6 257.9,582.6 262.3,588.9 266.8,590.6 271.2,594.6 275.7,593.6 280.1,594.6 284.6,580.6 289.0,582.6 293.4,582.6 297.9,584.6 302.3,580.6 306.8,614.1 311.2,615.1 315.7,607.2 320.1,608.2 324.6,601.1 329.0,613.6 333.5,603.5 337.9,613.1 342.4,610.6 346.8,607.6 351.3,609.5 355.7,608.4 360.2,601.1 364.6,612.6 369.1,609.8 373.5,616.4 378.0,613.1 382.4,614.1 386.8,615.1 391.3,615.1 395.7,615.9 400.2,620.1 404.6,619.0 409.1,615.2 413.5,611.1 418.0,617.2 422.4,620.6 426.9,616.4 431.3,614.8 435.8,609.1 440.2,617.6 444.7,613.6 449.1,618.6 453.6,611.4 458.0,614.6 462.5,616.1 466.9,618.1 471.4,613.1 475.8,609.1 480.2,613.8 484.7,618.6 489.1,616.6 493.6,616.6 498.0,609.1 502.5,611.0 506.9,614.9 511.4,611.8 515.8,610.7 520.3,612.1 524.7,616.0 529.2,615.4 533.6,599.6 538.1,610.4 542.5,610.0 547.0,614.5 551.4,620.6 555.9,615.5 560.3,611.9 564.8,614.7 569.2,606.1 573.6,622.1 578.1,615.0 582.5,610.1 587.0,613.1 591.4,622.6 595.9,620.8 600.3,619.3 604.8,617.6 609.2,618.3 613.7,617.3 618.1,618.8 622.6,622.6 627.0,621.3 631.5,619.9 635.9,621.4 640.4,616.4 644.8,620.5 649.3,615.5 653.7,616.5 658.2,621.6 662.6,611.1 667.0,621.6 671.5,620.0 675.9,619.7 680.4,615.8 684.8,621.7 689.3,610.8 693.7,620.0 698.2,623.9 702.6,620.8 707.1,614.6 711.5,621.0 716.0,623.3 720.4,620.1 724.9,614.6 729.3,620.0 733.8,621.9 738.2,624.1 742.7,617.7 747.1,627.1 751.6,623.0 756.0,625.2 760.4,623.0 764.9,624.1 769.3,620.2 773.8,624.4 778.2,618.9 782.7,617.6 787.1,620.4 791.6,622.0 796.0,620.0 800.5,622.1 804.9,614.1 809.4,621.2 813.8,617.9 818.3,620.3 822.7,614.9 827.2,624.5 831.6,618.5 836.1,626.6 840.5,621.9 845.0,621.3 849.4,614.1" fill="none" stroke="#64B5CD" stroke-width="0.8" stroke-linejoin="round"/>
<polyline points="102.2,579.5 106.6,577.5 111.1,582.7 115.5,576.7 120.0,578.2 124.4,578.3 128.9,577.6 133.3,587.6 137.8,575.8 142.2,583.4 146.7,585.7 151.1,582.5 155.6,595.6 160.0,588.6 164.5,584.2 168.9,583.8 173.4,595.9 177.8,587.9 182.3,576.5 186.7,592.8 191.2,590.5 195.6,602.2 200.0,599.1 204.5,602.5 208.9,583.0 213.4,588.2 217.8,584.8 222.3,590.0 226.7,581.6 231.2,595.5 235.6,590.4 240.1,591.3 244.5,583.7 249.0,592.6 253.4,580.0 257.9,582.0 262.3,588.3 266.8,590.0 271.2,594.0 275.7,593.0 280.1,594.0 284.6,580.0 289.0,582.0 293.4,582.0 297.9,584.0 302.3,580.0 306.8,613.5 311.2,614.5 315.7,606.6 320.1,607.6 324.6,600.5 329.0,613.0 333.5,602.9 337.9,612.5 342.4,610.0 346.8,607.0 351.3,608.9 355.7,607.8 360.2,600.5 364.6,612.0 369.1,609.2 373.5,615.8 378.0,612.5 382.4,613.5 386.8,614.5 391.3,614.5 395.7,615.3 400.2,619.5 404.6,618.4 409.1,614.6 413.5,610.5 418.0,616.6 422.4,620.0 426.9,615.8 431.3,614.2 435.8,608.5 440.2,617.0 444.7,613.0 449.1,618.0 453.6,610.8 458.0,614.0 462.5,615.5 466.9,617.5 471.4,612.5 475.8,608.5 480.2,613.2 484.7,618.0 489.1,616.0 493.6,616.0 498.0,608.5 502.5,610.4 506.9,614.3 511.4,611.2 515.8,610.1 520.3,611.5 524.7,615.4 529.2,614.8 533.6,599.0 538.1,609.8 542.5,609.4 547.0,613.9 551.4,620.0 555.9,614.9 560.3,611.2 564.8,614.1 569.2,605.5 573.6,621.5 578.1,614.4 582.5,609.5 587.0,612.5 591.4,622.0 595.9,620.2 600.3,618.7 604.8,617.0 609.2,617.7 613.7,616.7 618.1,618.2 622.6,622.0 627.0,620.7 631.5,619.3 635.9,620.8 640.4,615.8 644.8,619.9 649.3,614.9 653.7,615.9 658.2,621.0 662.6,610.5 667.0,621.0 671.5,619.4 675.9,619.1 680.4,615.2 684.8,621.1 689.3,610.2 693.7,619.4 698.2,623.3 702.6,620.1 707.1,614.0 711.5,620.4 716.0,622.7 720.4,619.5 724.9,614.0 729.3,619.4 733.8,621.3 738.2,623.5 742.7,617.1 747.1,626.5 751.6,622.4 756.0,624.6 760.4,622.4 764.9,623.5 769.3,619.6 773.8,623.8 778.2,618.3 782.7,617.0 787.1,619.8 791.6,621.4 796.0,619.4 800.5,621.5 804.9,613.5 809.4,620.6 813.8,617.3 818.3,619.7 822.7,614.3 827.2,623.9 831.6,617.9 836.1,626.0 840.5,621.3 845.0,620.7 849.4,613.5" fill="none" stroke="#CCB974" stroke-width="0.8" stroke-linejoin="round"/>
<polyline points="102.2,573.4 106.6,571.4 111.1,576.6 115.5,570.6 120.0,572.1 124.4,572.1 128.9,571.4 133.3,581.4 137.8,569.6 142.2,577.1 146.7,579.4 151.1,576.1 155.6,589.1 160.0,582.1 164.5,577.6 168.9,577.1 173.4,589.1 177.8,581.1 182.3,569.6 186.7,586.1 191.2,584.1 195.6,596.1 200.0,593.2 204.5,596.1 208.9,576.1 213.4,581.4 217.8,578.1 222.3,583.4 226.7,575.1 231.2,589.1 235.6,584.1 240.1,585.1 244.5,577.6 249.0,586.6 253.4,574.1 257.9,576.1 262.3,582.4 266.8,584.1 271.2,588.1 275.7,587.1 280.1,588.1 284.6,574.1 289.0,576.1 293.4,576.1 297.9,578.1 302.3,574.1 306.8,607.6 311.2,608.6 315.7,600.6 320.1,601.6 324.6,594.4 329.0,606.1 333.5,595.3 337.9,604.1 342.4,602.1 346.8,599.6 351.3,601.6 355.7,600.6 360.2,593.4 364.6,605.1 369.1,602.1 373.5,608.6 378.0,605.1 382.4,606.1 386.8,607.1 391.3,607.4 395.7,608.6 400.2,613.1 404.6,612.1 409.1,608.4 413.5,604.4 418.0,610.6 422.4,614.1 426.9,610.1 431.3,608.6 435.8,603.1 440.2,611.6 444.7,607.6 449.1,612.6 453.6,605.4 458.0,608.6 462.5,610.1 466.9,612.1 471.4,607.1 475.8,603.1 480.2,607.8 484.7,612.6 489.1,610.6 493.6,610.6 498.0,603.1 502.5,605.1 506.9,609.1 511.4,606.1 515.8,605.1 520.3,606.6 524.7,610.6 529.2,610.1 533.6,594.4 538.1,605.1 542.5,604.6 547.0,609.1 551.4,615.1 555.9,610.1 560.3,606.6 564.8,609.6 569.2,601.1 573.6,617.1 578.1,609.6 582.5,604.4 587.0,607.6 591.4,617.4 595.9,615.6 600.3,614.1 604.8,612.4 609.2,613.1 613.7,612.1 618.1,613.6 622.6,617.4 627.0,616.1 631.5,614.6 635.9,616.1 640.4,611.1 644.8,615.1 649.3,610.1 653.7,611.1 658.2,616.1 662.6,605.6 667.0,616.1 671.5,614.4 675.9,613.9 680.4,609.9 684.8,615.6 689.3,604.6 693.7,613.6 698.2,617.4 702.6,614.1 707.1,607.8 711.5,614.1 716.0,616.4 720.4,613.1 724.9,607.6 729.3,613.1 733.8,615.1 738.2,617.4 742.7,611.1 747.1,620.6 751.6,616.4 756.0,618.6 760.4,616.3 764.9,617.4 769.3,613.5 773.8,617.6 778.2,612.1 782.7,610.8 787.1,613.6 791.6,615.1 796.0,613.1 800.5,615.1 804.9,607.1 809.4,614.1 813.8,610.8 818.3,613.1 822.7,607.6 827.2,617.1 831.6,611.1 836.1,619.1 840.5,614.6 845.0,614.1 849.4,607.1" fill="none" stroke="#8C8C8C" stroke-width="0.8" stroke-linejoin="round"/>
<polyline points="102.2,572.8 106.6,570.8 111.1,576.0 115.5,570.0 120.0,571.5 124.4,571.5 128.9,570.8 133.3,580.8 137.8,569.0 142.2,576.5 146.7,578.8 151.1,575.5 155.6,588.5 160.0,581.5 164.5,577.0 168.9,576.5 173.4,588.5 177.8,580.5 182.3,569.0 186.7,585.5 191.2,583.5 195.6,595.5 200.0,592.6 204.5,595.5 208.9,575.5 213.4,580.8 217.8,577.5 222.3,582.8 226.7,574.5 231.2,588.5 235.6,583.5 240.1,584.5 244.5,577.0 249.0,586.0 253.4,573.5 257.9,575.5 262.3,581.8 266.8,583.5 271.2,587.5 275.7,586.5 280.1,587.5 284.6,573.5 289.0,575.5 293.4,575.5 297.9,577.5 302.3,573.5 306.8,607.0 311.2,608.0 315.7,600.0 320.1,601.0 324.6,593.8 329.0,605.5 333.5,594.7 337.9,603.5 342.4,601.5 346.8,599.0 351.3,601.0 355.7,600.0 360.2,592.8 364.6,604.5 369.1,601.5 373.5,608.0 378.0,604.5 382.4,605.5 386.8,606.5 391.3,606.8 395.7,608.0 400.2,612.5 404.6,611.5 409.1,607.8 413.5,603.8 418.0,610.0 422.4,613.5 426.9,609.5 431.3,608.0 435.8,602.5 440.2,611.0 444.7,607.0 449.1,612.0 453.6,604.8 458.0,608.0 462.5,609.5 466.9,611.5 471.4,606.5 475.8,602.5 480.2,607.2 484.7,612.0 489.1,610.0 493.6,610.0 498.0,602.5 502.5,604.5 506.9,608.5 511.4,605.5 515.8,604.5 520.3,606.0 524.7,610.0 529.2,609.5 533.6,593.8 538.1,604.5 542.5,604.0 547.0,608.5 551.4,614.5 555.9,609.5 560.3,606.0 564.8,609.0 569.2,600.5 573.6,616.5 578.1,609.0 582.5,603.8 587.0,607.0 591.4,616.8 595.9,615.0 600.3,613.5 604.8,611.8 609.2,612.5 613.7,611.5 618.1,613.0 622.6,616.8 627.0,615.5 631.5,614.0 635.9,615.5 640.4,610.5 644.8,614.5 649.3,609.5 653.7,610.5 658.2,615.5 662.6,605.0 667.0,615.5 671.5,613.8 675.9,613.3 680.4,609.3 684.8,615.0 689.3,604.0 693.7,613.0 698.2,616.8 702.6,613.5 707.1,607.2 711.5,613.5 716.0,615.8 720.4,612.5 724.9,607.0 729.3,612.5 733.8,614.5 738.2,616.8 742.7,610.5 747.1,620.0 751.6,615.8 756.0,618.0 760.4,615.7 764.9,616.8 769.3,612.9 773.8,617.0 778.2,611.5 782.7,610.2 787.1,613.0 791.6,614.5 796.0,612.5 800.5,614.5 804.9,606.5 809.4,613.5 813.8,610.2 818.3,612.5 822.7,607.0 827.2,616.5 831.6,610.5 836.1,618.5 840.5,614.0 845.0,613.5 849.4,606.5" fill="none" stroke="#DA8BC3" stroke-width="0.8" stroke-linejoin="round"/>
<polyline points="102.2,399.4 106.6,396.9 111.1,402.5 115.5,395.9 120.0,397.9 124.4,398.1 128.9,396.9 133.3,407.1 137.8,395.0 142.2,402.9 146.7,405.0 151.1,401.9 155.6,415.0 160.0,407.5 164.5,403.1 168.9,403.1 173.4,415.0 177.8,405.0 182.3,395.4 186.7,411.6 191.2,410.0 195.6,421.6 200.0,418.5 204.5,421.9 208.9,401.9 213.4,406.9 217.8,403.7 222.3,409.5 226.7,400.6 231.2,415.0 235.6,409.6 240.1,410.6 244.5,403.1 249.0,412.9 253.4,399.4 257.9,401.6 262.3,408.1 266.8,410.0 271.2,414.1 275.7,413.1 280.1,414.1 284.6,397.1 289.0,401.6 293.4,401.6 297.9,403.7 302.3,397.5 306.8,433.1 311.2,434.4 315.7,426.6 320.1,427.5 324.6,420.0 329.0,431.9 333.5,420.9 337.9,429.5 342.4,428.4 346.8,425.0 351.3,427.2 355.7,426.2 360.2,418.7 364.6,430.9 369.1,427.5 373.5,434.4 378.0,430.6 382.4,431.9 386.8,433.1 391.3,431.9 395.7,434.4 400.2,438.7 404.6,437.5 409.1,433.1 413.5,427.5 418.0,435.6 422.4,439.6 426.9,435.4 431.3,434.4 435.8,428.7 440.2,437.5 444.7,433.5 449.1,438.5 453.6,431.0 458.0,434.1 462.5,435.4 466.9,437.9 471.4,432.5 475.8,428.5 480.2,433.7 484.7,438.7 489.1,436.5 493.6,436.2 498.0,428.4 502.5,430.6 506.9,435.4 511.4,432.1 515.8,431.0 520.3,431.9 524.7,436.6 529.2,435.4 533.6,420.0 538.1,430.9 542.5,429.7 547.0,434.1 551.4,441.2 555.9,435.4 560.3,431.6 564.8,435.4 569.2,426.9 573.6,443.1 578.1,435.6 582.5,429.7 587.0,432.5 591.4,443.1 595.9,441.0 600.3,440.0 604.8,435.2 609.2,436.2 613.7,435.2 618.1,439.4 622.6,443.1 627.0,441.9 631.5,438.7 635.9,442.2 640.4,436.9 644.8,441.5 649.3,435.4 653.7,436.2 658.2,441.9 662.6,431.2 667.0,442.2 671.5,440.0 675.9,439.8 680.4,435.4 684.8,440.7 689.3,430.0 693.7,439.4 698.2,443.5 702.6,440.0 707.1,433.1 711.5,439.6 716.0,442.5 720.4,438.7 724.9,433.1 729.3,438.1 733.8,441.0 738.2,443.4 742.7,436.9 747.1,446.9 751.6,441.9 756.0,444.4 760.4,441.9 764.9,443.5 769.3,438.7 773.8,443.3 778.2,437.6 782.7,436.3 787.1,439.6 791.6,441.1 796.0,438.6 800.5,440.9 804.9,432.4 809.4,439.6 813.8,436.6 818.3,438.6 822.7,433.4 827.2,443.1 831.6,436.6 836.1,444.6 840.5,440.1 845.0,439.6 849.4,432.4" fill="none" stroke="#937860" stroke-width="0.8" stroke-linejoin="round"/>
<polyline points="102.2,398.8 106.6,396.2 111.1,401.9 115.5,395.2 120.0,397.2 124.4,397.5 128.9,396.2 133.3,406.5 137.8,394.4 142.2,402.2 146.7,404.4 151.1,401.2 155.6,414.4 160.0,406.9 164.5,402.5 168.9,402.5 173.4,414.4 177.8,404.4 182.3,394.8 186.7,411.0 191.2,409.4 195.6,421.0 200.0,417.9 204.5,421.2 208.9,401.2 213.4,406.2 217.8,403.1 222.3,408.9 226.7,400.0 231.2,414.4 235.6,409.0 240.1,410.0 244.5,402.5 249.0,412.2 253.4,398.8 257.9,401.0 262.3,407.5 266.8,409.4 271.2,413.5 275.7,412.5 280.1,413.5 284.6,396.5 289.0,401.0 293.4,401.0 297.9,403.1 302.3,396.9 306.8,432.5 311.2,433.8 315.7,426.0 320.1,426.9 324.6,419.4 329.0,431.2 333.5,420.2 337.9,428.9 342.4,427.8 346.8,424.4 351.3,426.6 355.7,425.6 360.2,418.1 364.6,430.2 369.1,426.9 373.5,433.8 378.0,430.0 382.4,431.2 386.8,432.5 391.3,431.2 395.7,433.8 400.2,438.1 404.6,436.9 409.1,432.5 413.5,426.9 418.0,435.0 422.4,439.0 426.9,434.8 431.3,433.8 435.8,428.1 440.2,436.9 444.7,432.9 449.1,437.9 453.6,430.4 458.0,433.5 462.5,434.8 466.9,437.2 471.4,431.9 475.8,427.9 480.2,433.1 484.7,438.1 489.1,435.9 493.6,435.6 498.0,427.8 502.5,430.0 506.9,434.8 511.4,431.5 515.8,430.4 520.3,431.2 524.7,436.0 529.2,434.8 533.6,419.4 538.1,430.2 542.5,429.1 547.0,433.5 551.4,440.6 555.9,434.8 560.3,431.0 564.8,434.8 569.2,426.2 573.6,442.5 578.1,435.0 582.5,429.1 587.0,431.9 591.4,442.5 595.9,440.4 600.3,439.4 604.8,434.6 609.2,435.6 613.7,434.6 618.1,438.8 622.6,442.5 627.0,441.2 631.5,438.1 635.9,441.6 640.4,436.2 644.8,440.9 649.3,434.8 653.7,435.6 658.2,441.2 662.6,430.6 667.0,441.6 671.5,439.4 675.9,439.2 680.4,434.8 684.8,440.1 689.3,429.4 693.7,438.8 698.2,442.9 702.6,439.4 707.1,432.5 711.5,439.0 716.0,441.9 720.4,438.1 724.9,432.5 729.3,437.5 733.8,440.4 738.2,442.8 742.7,436.2 747.1,446.2 751.6,441.2 756.0,443.8 760.4,441.2 764.9,442.9 769.3,438.1 773.8,442.7 778.2,437.0 782.7,435.7 787.1,439.0 791.6,440.5 796.0,438.0 800.5,440.3 804.9,431.8 809.4,439.0 813.8,436.0 818.3,438.0 822.7,432.8 827.2,442.5 831.6,436.0 836.1,444.0 840.5,439.5 845.0,439.0 849.4,431.8" fill="none" stroke="#8172B3" stroke-width="0.8" stroke-linejoin="round"/>
<polyline points="102.2,218.5 106.6,216.0 111.1,219.2 115.5,215.2 120.0,217.2 124.4,217.2 128.9,216.1 133.3,225.3 137.8,215.1 142.2,220.0 146.7,225.0 151.1,221.9 155.6,232.5 160.0,225.4 164.5,220.6 168.9,219.4 173.4,231.4 177.8,222.0 182.3,210.0 186.7,244.2 191.2,244.4 195.6,255.6 200.0,253.1 204.5,253.1 208.9,237.7 213.4,239.4 217.8,238.5 222.3,241.7 226.7,233.5 231.2,250.6 235.6,242.2 240.1,245.2 244.5,237.5 249.0,243.8 253.4,232.2 257.9,231.0 262.3,239.0 266.8,239.8 271.2,244.0 275.7,244.4 280.1,241.9 284.6,227.5 289.0,231.5 293.4,232.0 297.9,233.0 302.3,225.6 306.8,263.1 311.2,266.5 315.7,259.2 320.1,259.0 324.6,252.5 329.0,262.9 333.5,252.5 337.9,258.5 342.4,260.1 346.8,257.7 351.3,258.7 355.7,255.6 360.2,247.0 364.6,260.0 369.1,258.8 373.5,265.5 378.0,261.0 382.4,262.0 386.8,262.2 391.3,263.3 395.7,264.5 400.2,270.0 404.6,265.7 409.1,261.1 413.5,256.7 418.0,265.5 422.4,268.9 426.9,265.7 431.3,264.4 435.8,262.2 440.2,267.5 444.7,262.5 449.1,270.0 453.6,263.4 458.0,266.2 462.5,266.2 466.9,269.8 471.4,265.0 475.8,261.2 480.2,270.0 484.7,274.8 489.1,272.5 493.6,272.5 498.0,261.2 502.5,264.0 506.9,271.0 511.4,268.8 515.8,265.6 520.3,263.1 524.7,270.0 529.2,266.6 533.6,251.2 538.1,262.2 542.5,259.0 547.0,267.5 551.4,275.6 555.9,266.9 560.3,259.0 564.8,260.9 569.2,259.0 573.6,276.2 578.1,270.6 582.5,265.6 587.0,267.5 591.4,275.2 595.9,274.0 600.3,271.9 604.8,267.9 609.2,270.0 613.7,270.2 618.1,272.5 622.6,275.6 627.0,274.4 631.5,272.5 635.9,273.3 640.4,268.9 644.8,275.0 649.3,266.9 653.7,270.6 658.2,274.8 662.6,263.8 667.0,271.2 671.5,272.5 675.9,268.8 680.4,268.8 684.8,274.4 689.3,259.1 693.7,269.4 698.2,274.8 702.6,271.9 707.1,264.6 711.5,271.2 716.0,269.8 720.4,268.8 724.9,265.4 729.3,269.4 733.8,273.1 738.2,274.5 742.7,268.1 747.1,274.9 751.6,277.8 756.0,281.2 760.4,275.0 764.9,278.5 769.3,272.5 773.8,275.4 778.2,271.0 782.7,269.1 787.1,271.9 791.6,275.6 796.0,272.5 800.5,270.6 804.9,265.6 809.4,272.2 813.8,270.0 818.3,271.9 822.7,265.6 827.2,276.5 831.6,269.1 836.1,274.4 840.5,270.0 845.0,271.9 849.4,262.5" fill="none" stroke="#55A868" stroke-width="0.8" stroke-linejoin="round"/>
<polyline points="102.2,202.5 106.6,200.3 111.1,203.5 115.5,199.2 120.0,201.0 124.4,202.0 128.9,201.3 133.3,211.3 137.8,200.5 142.2,205.5 146.7,210.3 151.1,207.3 155.6,218.0 160.0,211.5 164.5,207.0 168.9,206.0 173.4,217.8 177.8,209.5 182.3,181.5 186.7,216.0 191.2,216.2 195.6,227.3 200.0,225.2 204.5,226.5 208.9,210.7 213.4,212.5 217.8,211.5 222.3,214.5 226.7,206.5 231.2,223.5 235.6,215.3 240.1,218.3 244.5,210.7 249.0,216.8 253.4,206.0 257.9,205.0 262.3,213.5 266.8,213.8 271.2,217.0 275.7,218.5 280.1,216.3 284.6,201.5 289.0,205.5 293.4,205.6 297.9,207.3 302.3,197.6 306.8,236.4 311.2,239.5 315.7,232.0 320.1,232.0 324.6,225.5 329.0,236.0 333.5,225.5 337.9,231.8 342.4,233.0 346.8,230.8 351.3,230.5 355.7,229.5 360.2,221.4 364.6,232.6 369.1,233.2 373.5,239.5 378.0,233.2 382.4,235.1 386.8,232.0 391.3,237.2 395.7,236.4 400.2,242.6 404.6,239.0 409.1,229.5 413.5,229.5 418.0,240.1 422.4,244.1 426.9,240.8 431.3,239.5 435.8,237.4 440.2,243.0 444.7,237.6 449.1,245.1 453.6,238.6 458.0,242.0 462.5,241.0 466.9,244.2 471.4,238.9 475.8,235.5 480.2,243.9 484.7,248.5 489.1,246.6 493.6,246.4 498.0,236.6 502.5,238.9 506.9,245.1 511.4,242.6 515.8,239.5 520.3,237.4 524.7,244.4 529.2,241.4 533.6,225.4 538.1,236.0 542.5,233.2 547.0,241.4 551.4,249.5 555.9,241.4 560.3,233.2 564.8,234.5 569.2,231.8 573.6,248.5 578.1,242.0 582.5,237.6 587.0,239.5 591.4,247.4 595.9,245.5 600.3,243.9 604.8,238.6 609.2,240.8 613.7,241.0 618.1,243.2 622.6,246.4 627.0,245.1 631.5,243.2 635.9,243.1 640.4,237.6 644.8,244.9 649.3,237.4 653.7,240.8 658.2,245.1 662.6,234.5 667.0,242.0 671.5,243.2 675.9,239.5 680.4,239.5 684.8,245.1 689.3,228.9 693.7,239.5 698.2,244.2 702.6,241.4 707.1,234.2 711.5,240.5 716.0,239.8 720.4,239.5 724.9,236.4 729.3,240.1 733.8,243.9 738.2,245.3 742.7,238.9 747.1,245.5 751.6,248.7 756.0,252.0 760.4,246.0 764.9,249.5 769.3,243.2 773.8,246.4 778.2,242.0 782.7,239.8 787.1,243.0 791.6,246.4 796.0,242.2 800.5,240.8 804.9,236.4 809.4,243.0 813.8,240.8 818.3,243.0 822.7,236.4 827.2,246.4 831.6,237.6 836.1,243.9 840.5,239.8 845.0,241.4 849.4,231.4" fill="none" stroke="#DD8452" stroke-width="0.8" stroke-linejoin="round"/>
<polyline points="102.2,175.5 106.6,173.3 111.1,176.5 115.5,172.2 120.0,174.0 124.4,175.0 128.9,174.3 133.3,184.3 137.8,173.5 142.2,178.5 146.7,183.3 151.1,180.3 155.6,191.0 160.0,184.5 164.5,180.0 168.9,179.0 173.4,190.8 177.8,182.5 182.3,154.5 186.7,189.0 191.2,189.2 195.6,200.3 200.0,198.2 204.5,199.5 208.9,183.7 213.4,185.5 217.8,184.5 222.3,187.5 226.7,179.5 231.2,196.5 235.6,188.3 240.1,191.3 244.5,183.7 249.0,189.8 253.4,179.0 257.9,178.0 262.3,186.5 266.8,186.8 271.2,190.0 275.7,191.5 280.1,189.3 284.6,174.5 289.0,178.5 293.4,178.6 297.9,180.3 302.3,170.6 306.8,209.4 311.2,212.5 315.7,205.0 320.1,205.0 324.6,198.5 329.0,209.0 333.5,198.5 337.9,204.8 342.4,206.0 346.8,203.8 351.3,203.5 355.7,202.5 360.2,194.4 364.6,205.6 369.1,206.2 373.5,212.5 378.0,206.2 382.4,208.1 386.8,205.0 391.3,210.2 395.7,209.4 400.2,215.6 404.6,212.0 409.1,202.5 413.5,202.5 418.0,213.1 422.4,217.1 426.9,213.8 431.3,212.5 435.8,210.4 440.2,216.0 444.7,210.6 449.1,218.1 453.6,211.6 458.0,215.0 462.5,214.0 466.9,217.2 471.4,211.9 475.8,208.5 480.2,216.9 484.7,221.5 489.1,219.6 493.6,219.4 498.0,209.6 502.5,211.9 506.9,218.1 511.4,215.6 515.8,212.5 520.3,210.4 524.7,217.4 529.2,214.4 533.6,198.4 538.1,209.0 542.5,206.2 547.0,214.4 551.4,222.5 555.9,214.4 560.3,206.2 564.8,207.5 569.2,204.8 573.6,221.5 578.1,215.0 582.5,210.6 587.0,212.5 591.4,220.4 595.9,218.5 600.3,216.9 604.8,211.6 609.2,213.8 613.7,214.0 618.1,216.2 622.6,219.4 627.0,218.1 631.5,216.2 635.9,216.1 640.4,210.6 644.8,217.9 649.3,210.4 653.7,213.8 658.2,218.1 662.6,207.5 667.0,215.0 671.5,216.2 675.9,212.5 680.4,212.5 684.8,218.1 689.3,201.9 693.7,212.5 698.2,217.2 702.6,214.4 707.1,207.2 711.5,213.5 716.0,212.8 720.4,212.5 724.9,209.4 729.3,213.1 733.8,216.9 738.2,218.3 742.7,211.9 747.1,218.5 751.6,221.7 756.0,225.0 760.4,219.0 764.9,222.5 769.3,216.2 773.8,219.4 778.2,215.0 782.7,212.8 787.1,216.0 791.6,219.4 796.0,215.2 800.5,213.8 804.9,209.4 809.4,216.0 813.8,213.8 818.3,216.0 822.7,209.4 827.2,219.4 831.6,210.6 836.1,216.9 840.5,212.8 845.0,214.4 849.4,204.4" fill="none" stroke="#4C72B0" stroke-width="0.8" stroke-linejoin="round"/>
<line x1="102.2" x2="849.4" y1="661.3" y2="661.3" stroke="rgba(255,255,255,0.22)" stroke-width="1.2"/>
<line x1="102.2" x2="849.4" y1="662.8" y2="662.8" stroke="#93565a" stroke-width="1.8"/>
<text x="101" y="668.2" text-anchor="end" font-size="15.2" fill="#444" font-family="DejaVu Sans, Verdana, Liberation Sans, sans-serif" stroke="#444" stroke-width="0.22">0</text>
<text x="101" y="612.0" text-anchor="end" font-size="15.2" fill="#444" font-family="DejaVu Sans, Verdana, Liberation Sans, sans-serif" stroke="#444" stroke-width="0.22">50</text>
<text x="101" y="555.9" text-anchor="end" font-size="15.2" fill="#444" font-family="DejaVu Sans, Verdana, Liberation Sans, sans-serif" stroke="#444" stroke-width="0.22">100</text>
<text x="101" y="499.7" text-anchor="end" font-size="15.2" fill="#444" font-family="DejaVu Sans, Verdana, Liberation Sans, sans-serif" stroke="#444" stroke-width="0.22">150</text>
<text x="101" y="443.5" text-anchor="end" font-size="15.2" fill="#444" font-family="DejaVu Sans, Verdana, Liberation Sans, sans-serif" stroke="#444" stroke-width="0.22">200</text>
<text x="101" y="387.4" text-anchor="end" font-size="15.2" fill="#444" font-family="DejaVu Sans, Verdana, Liberation Sans, sans-serif" stroke="#444" stroke-width="0.22">250</text>
<text x="101" y="331.2" text-anchor="end" font-size="15.2" fill="#444" font-family="DejaVu Sans, Verdana, Liberation Sans, sans-serif" stroke="#444" stroke-width="0.22">300</text>
<text x="101" y="275.0" text-anchor="end" font-size="15.2" fill="#444" font-family="DejaVu Sans, Verdana, Liberation Sans, sans-serif" stroke="#444" stroke-width="0.22">350</text>
<text x="101" y="218.9" text-anchor="end" font-size="15.2" fill="#444" font-family="DejaVu Sans, Verdana, Liberation Sans, sans-serif" stroke="#444" stroke-width="0.22">400</text>
<text x="101" y="162.7" text-anchor="end" font-size="15.2" fill="#444" font-family="DejaVu Sans, Verdana, Liberation Sans, sans-serif" stroke="#444" stroke-width="0.22">450</text>
<text transform="translate(105.3,679.0) rotate(-20)" text-anchor="end" font-size="15.4" textLength="91.5" lengthAdjust="spacingAndGlyphs" fill="#444" font-family="DejaVu Sans, Verdana, Liberation Sans, sans-serif" stroke="#444" stroke-width="0.22">2025-02-17</text>
<text transform="translate(212.0,679.0) rotate(-20)" text-anchor="end" font-size="15.4" textLength="91.5" lengthAdjust="spacingAndGlyphs" fill="#444" font-family="DejaVu Sans, Verdana, Liberation Sans, sans-serif" stroke="#444" stroke-width="0.22">2025-02-18</text>
<text transform="translate(318.8,679.0) rotate(-20)" text-anchor="end" font-size="15.4" textLength="91.5" lengthAdjust="spacingAndGlyphs" fill="#444" font-family="DejaVu Sans, Verdana, Liberation Sans, sans-serif" stroke="#444" stroke-width="0.22">2025-02-19</text>
<text transform="translate(425.5,679.0) rotate(-20)" text-anchor="end" font-size="15.4" textLength="91.5" lengthAdjust="spacingAndGlyphs" fill="#444" font-family="DejaVu Sans, Verdana, Liberation Sans, sans-serif" stroke="#444" stroke-width="0.22">2025-02-20</text>
<text transform="translate(532.3,679.0) rotate(-20)" text-anchor="end" font-size="15.4" textLength="91.5" lengthAdjust="spacingAndGlyphs" fill="#444" font-family="DejaVu Sans, Verdana, Liberation Sans, sans-serif" stroke="#444" stroke-width="0.22">2025-02-21</text>
<text transform="translate(639.0,679.0) rotate(-20)" text-anchor="end" font-size="15.4" textLength="91.5" lengthAdjust="spacingAndGlyphs" fill="#444" font-family="DejaVu Sans, Verdana, Liberation Sans, sans-serif" stroke="#444" stroke-width="0.22">2025-02-22</text>
<text transform="translate(745.8,679.0) rotate(-20)" text-anchor="end" font-size="15.4" textLength="91.5" lengthAdjust="spacingAndGlyphs" fill="#444" font-family="DejaVu Sans, Verdana, Liberation Sans, sans-serif" stroke="#444" stroke-width="0.22">2025-02-23</text>
<text transform="translate(852.5,679.0) rotate(-20)" text-anchor="end" font-size="15.4" textLength="91.5" lengthAdjust="spacingAndGlyphs" fill="#444" font-family="DejaVu Sans, Verdana, Liberation Sans, sans-serif" stroke="#444" stroke-width="0.22">2025-02-24</text>
<text x="475.5" y="735" text-anchor="middle" font-size="18" fill="#444" font-family="DejaVu Sans, Verdana, Liberation Sans, sans-serif" stroke="#444" stroke-width="0.22">Date</text>
<text transform="translate(54.3,394.8) rotate(-90)" text-anchor="middle" font-size="18" fill="#444" font-family="DejaVu Sans, Verdana, Liberation Sans, sans-serif" stroke="#444" stroke-width="0.22">Count</text>
<text x="476.5" y="39.9" text-anchor="middle" font-size="22.67" textLength="449" lengthAdjust="spacingAndGlyphs" fill="#444" font-family="DejaVu Sans, Verdana, Liberation Sans, sans-serif" stroke="#444" stroke-width="0.22">celestia-node/light Version Distribution</text>
<text x="829.3" y="753" text-anchor="end" font-size="13" textLength="313.6" lengthAdjust="spacingAndGlyphs" fill="#444" font-family="DejaVu Sans, Verdana, Liberation Sans, sans-serif" stroke="#444" stroke-width="0.22">Data: week ending 24 Feb 2025. Source: Nebula</text>
<rect x="110.6" y="60.9" width="219" height="42.4" rx="2.7" fill="#fff" stroke="#BAC5E5" stroke-width="1.2"/>
<text x="126.4" y="86" font-size="16" textLength="142.8" lengthAdjust="spacingAndGlyphs" fill="#444" font-family="DejaVu Sans, Verdana, Liberation Sans, sans-serif" stroke="#444" stroke-width="0.22">celestia-node/light</text>
<polygon points="309.3,74 320,74 314.65,84.8" fill="#444"/>
<rect x="871" y="143.7" width="38" height="7.5" fill="rgba(76,114,176,0.5)"/>
<line x1="871" x2="909" y1="143.7" y2="143.7" stroke="#4C72B0" stroke-width="0.9"/>
<text x="915.8" y="152.0" font-size="15.2" textLength="46.4" lengthAdjust="spacingAndGlyphs" fill="#444" font-family="DejaVu Sans, Verdana, Liberation Sans, sans-serif" stroke="#444" stroke-width="0.22">vmain</text>
<rect x="871" y="167.9" width="38" height="7.5" fill="rgba(221,132,82,0.5)"/>
<line x1="871" x2="909" y1="167.9" y2="167.9" stroke="#DD8452" stroke-width="0.9"/>
<text x="915.8" y="176.2" font-size="15.2" textLength="59.2" lengthAdjust="spacingAndGlyphs" fill="#444" font-family="DejaVu Sans, Verdana, Liberation Sans, sans-serif" stroke="#444" stroke-width="0.22">v0.21.5</text>
<rect x="871" y="192.2" width="38" height="7.5" fill="rgba(85,168,104,0.5)"/>
<line x1="871" x2="909" y1="192.2" y2="192.2" stroke="#55A868" stroke-width="0.9"/>
<text x="915.8" y="200.5" font-size="15.2" textLength="59.2" lengthAdjust="spacingAndGlyphs" fill="#444" font-family="DejaVu Sans, Verdana, Liberation Sans, sans-serif" stroke="#444" stroke-width="0.22">v0.21.4</text>
<rect x="871" y="216.4" width="38" height="7.5" fill="rgba(196,78,82,0.5)"/>
<line x1="871" x2="909" y1="216.4" y2="216.4" stroke="#C44E52" stroke-width="0.9"/>
<text x="915.8" y="224.8" font-size="15.2" textLength="59.2" lengthAdjust="spacingAndGlyphs" fill="#444" font-family="DejaVu Sans, Verdana, Liberation Sans, sans-serif" stroke="#444" stroke-width="0.22">v0.20.4</text>
<rect x="871" y="240.7" width="38" height="7.5" fill="rgba(129,114,179,0.5)"/>
<line x1="871" x2="909" y1="240.7" y2="240.7" stroke="#8172B3" stroke-width="0.9"/>
<text x="915.8" y="249.0" font-size="15.2" textLength="59.2" lengthAdjust="spacingAndGlyphs" fill="#444" font-family="DejaVu Sans, Verdana, Liberation Sans, sans-serif" stroke="#444" stroke-width="0.22">v0.20.3</text>
<rect x="871" y="264.9" width="38" height="7.5" fill="rgba(147,120,96,0.5)"/>
<line x1="871" x2="909" y1="264.9" y2="264.9" stroke="#937860" stroke-width="0.9"/>
<text x="915.8" y="273.2" font-size="15.2" textLength="59.2" lengthAdjust="spacingAndGlyphs" fill="#444" font-family="DejaVu Sans, Verdana, Liberation Sans, sans-serif" stroke="#444" stroke-width="0.22">v0.20.2</text>
<rect x="871" y="289.2" width="38" height="7.5" fill="rgba(218,139,195,0.5)"/>
<line x1="871" x2="909" y1="289.2" y2="289.2" stroke="#DA8BC3" stroke-width="0.9"/>
<text x="915.8" y="297.5" font-size="15.2" textLength="59.2" lengthAdjust="spacingAndGlyphs" fill="#444" font-family="DejaVu Sans, Verdana, Liberation Sans, sans-serif" stroke="#444" stroke-width="0.22">v0.18.0</text>
<rect x="871" y="313.4" width="38" height="7.5" fill="rgba(140,140,140,0.5)"/>
<line x1="871" x2="909" y1="313.4" y2="313.4" stroke="#8C8C8C" stroke-width="0.9"/>
<text x="915.8" y="321.8" font-size="15.2" textLength="59.2" lengthAdjust="spacingAndGlyphs" fill="#444" font-family="DejaVu Sans, Verdana, Liberation Sans, sans-serif" stroke="#444" stroke-width="0.22">v0.17.2</text>
<rect x="871" y="337.7" width="38" height="7.5" fill="rgba(204,185,116,0.5)"/>
<line x1="871" x2="909" y1="337.7" y2="337.7" stroke="#CCB974" stroke-width="0.9"/>
<text x="915.8" y="346.0" font-size="15.2" textLength="59.2" lengthAdjust="spacingAndGlyphs" fill="#444" font-family="DejaVu Sans, Verdana, Liberation Sans, sans-serif" stroke="#444" stroke-width="0.22">v0.17.1</text>
<rect x="871" y="361.9" width="38" height="7.5" fill="rgba(100,181,205,0.5)"/>
<line x1="871" x2="909" y1="361.9" y2="361.9" stroke="#64B5CD" stroke-width="0.9"/>
<text x="915.8" y="370.2" font-size="15.2" textLength="59.2" lengthAdjust="spacingAndGlyphs" fill="#444" font-family="DejaVu Sans, Verdana, Liberation Sans, sans-serif" stroke="#444" stroke-width="0.22">v0.16.0</text>
<rect x="871" y="386.2" width="38" height="7.5" fill="rgba(76,114,176,0.5)"/>
<line x1="871" x2="909" y1="386.2" y2="386.2" stroke="#4C72B0" stroke-width="0.9"/>
<text x="915.8" y="394.5" font-size="15.2" textLength="59.2" lengthAdjust="spacingAndGlyphs" fill="#444" font-family="DejaVu Sans, Verdana, Liberation Sans, sans-serif" stroke="#444" stroke-width="0.22">v0.15.0</text>
<rect x="871" y="410.4" width="38" height="7.5" fill="rgba(221,132,82,0.5)"/>
<line x1="871" x2="909" y1="410.4" y2="410.4" stroke="#DD8452" stroke-width="0.9"/>
<text x="915.8" y="418.8" font-size="15.2" textLength="59.2" lengthAdjust="spacingAndGlyphs" fill="#444" font-family="DejaVu Sans, Verdana, Liberation Sans, sans-serif" stroke="#444" stroke-width="0.22">v0.14.1</text>
<rect x="871" y="434.7" width="38" height="7.5" fill="rgba(196,78,82,0.5)"/>
<line x1="871" x2="909" y1="434.7" y2="434.7" stroke="#C44E52" stroke-width="0.9"/>
<text x="915.8" y="443.0" font-size="15.2" textLength="48.4" lengthAdjust="spacingAndGlyphs" fill="#444" font-family="DejaVu Sans, Verdana, Liberation Sans, sans-serif" stroke="#444" stroke-width="0.22">others</text>
</svg>
</body></html>
